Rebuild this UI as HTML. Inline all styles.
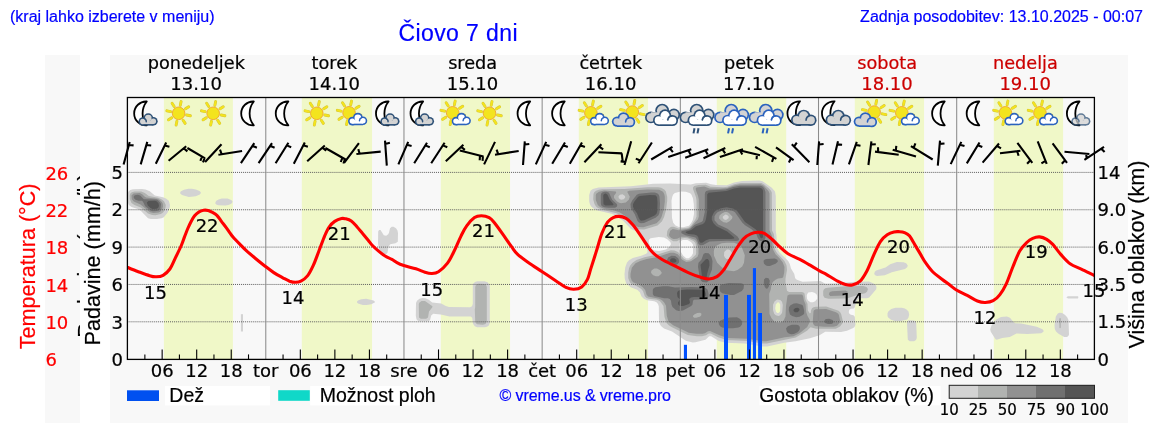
<!DOCTYPE html>
<html><head><meta charset="utf-8"><style>
html,body{margin:0;padding:0;background:#fff;width:1152px;height:443px;overflow:hidden}
svg{position:absolute;left:0;top:0;will-change:transform}
.dj{font-family:"DejaVu Sans",sans-serif;font-size:18px;stroke:currentColor;stroke-width:0.22px}
.ax{font-size:21.6px}
.ls{font-family:"Liberation Sans",Arial,sans-serif;stroke:currentColor;stroke-width:0.2px}
.lg{font-size:19.5px}
.cbl{font-size:15px}
.top{font-family:"Liberation Sans",Arial,sans-serif;fill:#0000ff;stroke:#0000ff;stroke-width:0.2px}
</style></head><body>
<svg width="1152" height="443" viewBox="0 0 1152 443">
<defs><clipPath id="cpP"><rect x="127.4" y="97" width="967" height="262"/></clipPath><clipPath id="cpT"><rect x="45" y="55" width="35" height="367"/></clipPath><clipPath id="cpL"><rect x="110" y="0" width="20" height="443"/></clipPath></defs>
<rect x="45" y="55" width="35" height="368" fill="#f8f8f8"/>
<rect x="110" y="55" width="1018" height="368" fill="#f8f8f8"/>
<text x="10" y="22.2" class="top" font-size="16">(kraj lahko izberete v meniju)</text>
<text x="398.5" y="40.6" class="top" font-size="23" letter-spacing="0.4">Čiovo 7 dni</text>
<text x="1143" y="21.5" class="top" font-size="16" text-anchor="end">Zadnja posodobitev: 13.10.2025 - 00:07</text>
<rect x="127.4" y="97" width="967" height="262" fill="#f8f8f8"/>
<rect x="163.90" y="97" width="69.00" height="262" fill="#f0f8c8"/>
<rect x="301.80" y="97" width="70.25" height="262" fill="#f0f8c8"/>
<rect x="440.80" y="97" width="69.25" height="262" fill="#f0f8c8"/>
<rect x="578.80" y="97" width="69.25" height="262" fill="#f0f8c8"/>
<rect x="716.80" y="97" width="69.40" height="262" fill="#f0f8c8"/>
<rect x="854.80" y="97" width="69.25" height="262" fill="#f0f8c8"/>
<rect x="993.80" y="97" width="69.30" height="262" fill="#f0f8c8"/>
<g clip-path="url(#cpP)"><path fill="#d3d3d3" fill-rule="evenodd" d="M908.2,320.2 907.0,323.2 907.8,339.8 909.8,341.2 914.0,341.2 916.0,340.0 916.8,338.0 916.2,322.8 915.0,321.0 913.8,320.5ZM990.2,329.2 990.8,331.8 995.5,339.2 996.8,339.8 1002.2,338.0 1009.8,337.0 1016.5,333.5 1027.2,334.0 1041.2,333.2 1043.5,331.8 1043.5,330.5 1042.5,329.2 1036.8,326.8 1021.2,323.5 1015.2,323.2 1013.2,321.8 1010.0,317.8 1006.8,316.5 1001.0,317.0 995.8,319.8 991.5,325.5ZM1059.5,312.8 1057.8,313.5 1055.8,316.5 1054.5,325.0 1054.8,329.0 1056.0,331.5 1058.5,333.8 1064.2,337.0 1067.0,337.0 1068.5,335.8 1069.0,334.5 1068.5,320.0 1067.0,317.0 1064.8,314.8 1062.0,313.0ZM887.5,313.2 887.5,316.0 888.2,317.5 891.0,319.8 895.0,321.0 900.8,321.0 907.2,319.5 908.5,317.5 909.2,314.5 908.5,311.5 906.8,309.8 904.8,308.5 901.8,307.8 895.5,307.8 891.2,309.0 888.5,311.2ZM357.0,301.5 357.0,302.5 358.0,303.5 362.8,305.0 366.8,305.0 371.2,304.2 374.8,302.5 374.8,301.5 373.5,300.5 366.2,298.8 361.2,299.2 358.0,300.5ZM489.2,284.2 487.5,282.2 484.5,281.2 477.5,281.2 475.5,281.8 473.5,283.2 472.8,285.2 472.8,303.8 472.0,306.2 470.0,307.2 449.0,307.0 445.8,306.0 441.2,303.5 432.2,302.5 428.8,299.8 425.5,298.2 422.5,298.0 419.5,298.8 417.0,300.8 416.0,303.0 415.8,315.8 416.5,319.2 417.2,320.2 419.2,321.2 428.0,321.2 430.0,320.2 431.2,315.5 433.2,313.8 440.8,314.5 449.5,316.5 470.8,316.5 472.2,317.8 473.0,323.8 474.8,326.2 477.2,327.2 485.0,327.2 487.0,326.8 488.8,325.5 489.8,323.0 489.8,286.0ZM907.8,265.5 906.2,263.2 903.5,262.2 896.8,262.0 890.2,264.2 885.5,267.5 876.2,270.5 874.8,271.8 874.2,274.0 875.2,275.2 877.0,276.0 884.8,275.2 891.8,272.2 905.0,269.0 907.2,267.2ZM393.5,226.8 391.8,226.8 390.0,228.2 389.0,232.8 388.2,234.2 386.2,235.8 383.8,235.2 380.5,230.0 379.2,230.0 378.2,231.2 378.0,243.0 378.8,248.8 379.5,250.5 384.2,254.2 386.0,254.2 387.5,252.8 388.5,246.8 390.2,244.2 395.5,243.2 397.8,241.8 398.0,233.2 397.5,230.5 396.0,228.2ZM232.5,201.2 231.2,200.0 227.5,198.5 221.8,198.5 218.5,199.5 216.0,201.0 215.2,203.2 216.2,204.5 218.2,205.2 225.5,205.5 228.5,205.0 231.2,203.8 232.2,202.8ZM128.5,191.5 127.8,193.2 127.5,198.2 128.0,203.0 128.8,205.0 131.5,207.0 137.2,208.8 140.5,210.5 148.0,218.2 150.8,219.0 157.0,219.0 161.5,218.2 163.8,217.2 167.5,212.8 169.8,207.2 170.0,205.0 168.8,200.8 166.0,198.5 163.0,197.2 154.8,195.5 149.8,191.2 145.5,189.5 142.0,189.0 133.0,189.2 130.2,190.0ZM180.2,192.2 180.2,193.5 182.0,195.0 188.8,197.0 195.8,196.2 199.8,194.5 200.8,193.2 200.8,192.2 199.5,191.0 195.8,189.5 191.8,188.8 188.5,188.8 184.0,189.8 181.0,191.2ZM590.5,190.8 589.2,195.0 589.2,201.5 590.0,204.5 591.2,206.5 594.2,209.0 597.5,210.5 611.5,213.8 617.2,216.2 623.5,221.0 630.5,228.5 633.5,230.2 638.8,232.0 640.2,234.0 641.8,238.8 647.2,249.8 647.5,252.2 646.2,253.8 641.2,255.8 632.8,258.0 629.0,260.2 627.0,262.5 625.2,267.5 624.5,274.2 624.8,278.8 626.2,283.5 630.8,287.2 637.2,289.8 639.8,292.2 641.5,296.5 643.8,298.8 647.0,300.2 654.2,301.2 656.5,302.2 658.0,304.0 658.8,306.2 659.0,320.2 659.8,324.0 661.0,326.0 664.0,328.5 672.0,331.5 685.8,340.8 692.8,342.5 695.5,342.2 705.5,339.8 709.2,336.2 711.2,336.2 718.8,341.0 726.0,342.8 745.0,343.5 762.2,346.5 767.2,346.5 784.2,342.8 795.5,341.2 810.0,338.2 819.5,335.2 825.2,331.8 841.0,332.0 847.0,330.8 853.2,328.0 854.5,327.0 855.5,324.8 854.8,316.8 853.5,315.2 850.8,314.8 849.2,313.5 848.8,312.2 849.2,309.8 851.0,308.8 853.8,308.5 854.5,307.8 856.5,302.0 858.2,299.2 861.2,298.2 867.0,298.2 869.2,297.5 876.2,289.2 876.5,287.0 875.8,285.2 873.2,283.2 869.0,281.5 855.0,281.8 838.5,283.2 826.2,283.8 824.8,283.5 820.5,281.0 802.5,281.8 796.8,279.8 795.2,278.2 794.2,273.8 791.0,268.5 789.8,264.0 788.2,261.0 779.8,252.8 777.0,248.2 776.5,235.8 775.8,231.0 775.8,196.0 775.0,191.5 771.8,187.8 762.5,181.2 759.2,180.5 742.0,181.0 734.2,182.5 726.8,185.2 716.0,185.0 711.0,184.2 706.2,182.8 696.0,183.2 690.8,184.5 670.2,183.5 653.2,183.8 630.8,186.2 598.5,187.5 592.8,189.0ZM777.8,302.2 779.0,302.5 780.2,304.5 780.2,310.2 779.8,311.8 778.5,313.0 777.2,313.0 776.0,311.8 775.2,308.5 775.8,304.2ZM808.2,292.5 812.0,292.0 814.5,292.8 816.5,294.2 817.2,296.0 817.2,298.8 815.2,301.2 813.0,302.2 810.5,302.2 808.0,300.5 807.0,298.5 806.8,295.0ZM682.8,240.0 687.5,240.0 691.0,242.0 693.0,244.5 693.0,253.2 691.5,256.0 688.8,258.2 686.2,258.2 683.0,255.5 679.2,249.0 679.2,244.0 679.8,242.5 681.2,240.8ZM648.8,240.0 650.5,238.2 658.8,237.0 664.0,237.5 667.2,239.2 670.0,241.8 670.8,243.0 670.8,244.5 669.5,246.8 666.0,249.5 659.0,251.0 654.5,250.5 651.8,249.2 650.5,247.8 648.8,242.2ZM680.8,191.5 685.8,191.8 690.2,193.2 691.5,194.8 693.0,198.5 693.8,204.2 694.0,214.0 692.8,220.0 691.2,223.0 689.0,225.8 683.2,227.2 679.0,227.0 675.5,225.5 673.2,222.8 672.0,218.0 671.5,200.8 672.2,197.0 673.2,194.5 674.8,193.0Z"/>
<path fill="#b1b3b1" fill-rule="evenodd" d="M1059.8,317.8 1059.2,319.8 1059.5,328.0 1060.2,328.2 1060.8,327.5 1060.8,318.5ZM421.5,301.0 419.2,302.8 418.8,304.2 419.0,317.5 420.8,318.8 426.2,318.8 428.0,317.5 429.0,311.5 432.2,307.5 432.5,306.2 425.0,301.0ZM868.0,289.0 866.5,287.0 863.2,286.0 846.0,286.2 827.8,287.8 825.2,288.2 823.8,289.5 823.2,291.0 823.2,295.5 824.5,297.8 828.5,298.8 847.0,298.5 857.2,295.0 865.0,293.2 867.0,291.8ZM478.2,283.8 476.0,284.8 475.2,287.0 475.2,307.0 474.8,309.5 475.2,321.0 475.8,323.0 477.0,324.2 482.8,324.8 485.5,324.0 486.8,321.5 486.8,287.0 486.0,285.0 484.5,284.0ZM130.5,193.2 129.8,195.0 129.8,199.0 131.5,203.0 134.5,205.0 140.8,207.5 148.0,213.5 152.2,215.0 155.5,215.2 160.8,214.0 162.5,213.0 164.0,211.2 165.5,207.8 165.8,205.0 164.0,201.2 161.8,199.5 158.2,197.8 148.8,196.0 144.8,193.0 141.2,191.5 134.8,191.5 131.8,192.2ZM667.2,196.8 665.8,191.2 664.2,189.5 661.2,187.8 658.2,187.2 647.2,187.2 624.5,189.0 602.2,189.2 598.8,189.8 596.0,190.8 594.2,192.2 593.5,194.0 593.2,199.2 594.5,204.0 596.0,206.5 597.5,207.8 602.2,209.8 616.5,213.2 621.0,215.5 624.8,218.2 631.0,225.2 634.5,227.8 638.5,229.2 644.2,229.5 657.5,225.5 661.8,221.5 664.0,217.2 666.0,210.2 667.2,201.0ZM618.5,196.2 620.0,194.8 622.5,194.2 625.0,196.0 625.2,197.5 623.8,199.2 621.0,199.8 618.8,198.2ZM629.0,268.2 628.2,272.8 628.2,278.0 630.0,282.5 632.0,284.2 636.5,286.0 641.0,288.8 643.0,291.0 644.8,296.2 646.5,298.0 648.8,298.8 657.0,299.8 660.0,301.2 663.5,306.0 664.5,317.0 666.5,323.0 668.8,325.2 671.5,327.0 687.8,335.0 697.0,336.2 702.0,336.2 706.0,335.2 708.8,333.5 710.8,333.5 718.2,337.2 726.2,340.0 747.8,341.0 762.2,343.5 766.8,343.5 795.8,337.5 807.0,330.8 810.5,327.2 816.2,328.8 835.8,328.8 840.0,326.5 842.5,323.2 842.8,321.0 841.2,314.2 840.2,312.2 838.5,310.8 826.2,306.5 815.8,306.8 813.5,307.2 812.0,308.2 811.0,310.5 810.8,312.8 809.8,313.5 807.8,310.2 807.5,303.8 805.5,299.8 804.5,293.5 803.5,292.5 801.8,292.0 789.0,292.0 787.0,290.8 785.5,282.5 785.5,278.8 787.0,269.8 786.5,265.2 784.5,261.0 777.2,253.2 775.0,249.5 774.5,247.2 774.2,236.5 773.8,234.0 772.0,230.5 771.8,192.5 771.0,190.8 768.8,188.2 764.2,184.5 761.5,183.0 741.0,183.0 734.2,184.2 727.5,186.8 723.5,187.2 710.5,186.8 705.8,184.8 698.5,185.0 694.2,186.0 693.0,187.5 693.0,189.0 696.0,197.2 696.5,200.2 696.5,216.5 695.5,219.2 691.2,225.5 688.2,227.8 679.2,228.8 673.5,226.8 671.5,226.8 670.0,227.5 668.2,229.2 667.2,231.2 666.8,235.8 669.0,238.5 673.2,241.2 677.0,241.2 681.5,238.5 684.8,238.0 688.2,238.5 693.5,241.0 695.2,242.8 696.0,245.5 696.2,252.8 695.8,254.8 691.2,259.0 689.0,260.0 686.8,260.2 683.8,258.8 678.0,252.0 674.5,250.5 671.0,250.2 657.5,254.5 644.5,257.2 636.5,260.0 632.5,262.8 630.2,265.5ZM777.0,299.5 780.2,300.0 782.0,301.8 782.8,305.0 782.2,312.2 781.5,313.8 779.8,315.5 778.5,316.0 775.8,315.2 774.2,313.8 773.0,310.0 773.0,304.8 774.5,301.5ZM726.8,249.5 728.8,249.5 730.2,250.2 732.2,253.2 732.2,256.5 730.8,258.5 729.2,259.2 726.5,259.0 725.0,257.8 724.0,255.8 724.2,252.0ZM725.5,214.5 727.2,215.0 728.8,216.8 728.5,218.2 726.0,220.0 724.2,219.5 722.8,218.0 722.8,216.5Z"/>
<path fill="#919191" fill-rule="evenodd" d="M814.0,310.2 813.5,311.5 812.8,321.5 813.2,324.0 815.0,326.0 824.5,326.8 833.5,326.8 837.0,325.8 840.0,322.5 840.2,321.0 838.8,314.8 838.0,313.5 836.0,312.2 826.2,309.0 815.8,309.2ZM847.8,291.8 845.5,290.5 832.2,291.2 829.8,292.0 828.8,294.2 830.2,296.0 844.5,295.5 847.2,294.2ZM131.5,195.5 131.8,199.2 133.8,201.5 140.5,204.5 150.2,212.2 153.5,213.0 158.5,212.5 160.2,211.8 162.2,209.2 163.0,206.5 162.8,203.8 162.0,202.2 159.8,200.0 157.5,198.8 146.2,197.5 144.8,196.8 142.2,194.2 139.8,193.0 133.5,193.5ZM664.8,196.5 664.2,194.0 663.0,191.8 659.2,189.8 647.2,189.5 629.2,190.8 627.2,191.8 629.8,196.8 628.8,199.8 625.8,202.5 621.2,203.2 619.2,202.8 616.8,201.2 614.0,198.0 614.0,195.8 616.2,192.8 615.8,191.5 604.0,190.5 599.0,191.8 596.2,193.8 595.8,195.2 595.8,200.0 597.8,205.0 600.0,207.0 603.2,208.5 612.5,210.0 619.5,212.2 626.5,216.8 630.8,221.8 635.5,225.8 638.2,227.0 643.2,227.2 656.5,223.2 660.0,219.8 661.5,217.0 663.8,209.2 664.8,201.8ZM696.5,187.5 695.8,188.2 695.8,189.8 698.0,195.8 698.8,199.5 698.8,216.5 698.0,219.2 690.0,228.0 688.2,228.8 678.8,230.2 672.8,229.0 670.2,230.8 669.0,234.8 669.5,236.2 671.2,238.0 673.5,239.0 677.2,238.8 681.2,236.8 686.5,236.8 695.0,239.8 696.5,241.8 698.5,248.0 698.5,254.0 697.5,256.8 691.0,261.2 686.2,262.0 682.2,259.8 677.8,254.2 673.8,252.8 670.2,252.8 656.5,257.2 646.8,259.0 640.2,261.0 635.5,263.2 631.8,267.8 630.5,274.0 630.5,277.0 631.8,280.8 633.2,282.2 639.2,284.8 642.5,287.0 645.2,290.0 646.5,294.5 648.0,296.5 659.2,298.8 662.0,300.2 664.2,302.5 666.0,305.8 666.8,315.8 668.5,321.5 673.2,325.2 688.8,332.8 696.5,333.8 702.5,333.8 704.8,333.2 708.0,331.2 710.0,331.0 719.5,335.2 727.8,338.0 747.5,338.8 762.8,341.2 766.2,341.2 784.8,337.2 793.5,336.2 799.5,333.2 807.2,327.0 809.8,321.8 809.8,320.0 807.5,316.0 806.2,312.0 805.5,304.2 803.8,300.2 803.2,296.5 802.5,295.0 801.5,294.5 789.5,294.5 787.5,295.5 786.0,306.0 785.5,316.5 783.8,320.2 781.8,322.0 780.0,322.5 774.8,322.0 771.5,318.2 769.5,314.0 769.2,293.8 770.8,289.2 771.5,284.8 772.8,282.0 775.5,279.8 778.0,278.5 782.2,278.0 783.2,277.0 784.2,272.8 784.5,267.0 782.8,262.5 780.0,258.8 775.5,254.2 772.8,249.2 772.0,236.0 769.5,230.2 769.5,193.5 768.5,191.0 763.8,185.8 760.5,184.2 739.5,184.5 734.2,185.5 727.2,188.0 719.0,188.8 709.5,188.5 704.2,186.5ZM701.5,313.8 701.2,315.5 699.8,316.8 696.2,317.8 694.2,317.8 693.0,316.8 693.0,315.8 694.2,314.5 697.2,313.0 700.2,312.8ZM651.5,270.5 654.2,268.5 657.0,268.5 660.2,270.2 661.8,272.8 661.2,274.0 658.5,276.2 655.8,276.2 653.2,275.2 651.5,273.5 651.0,272.2ZM716.8,245.5 721.5,243.2 726.8,242.8 734.0,242.8 739.5,244.8 741.8,247.2 744.8,255.2 744.0,262.8 742.2,266.5 737.5,270.0 733.8,271.2 726.2,270.2 723.0,268.5 717.2,262.8 714.0,255.8 713.8,251.8 714.2,249.2 715.2,247.0ZM724.8,212.0 727.0,212.0 729.0,213.0 732.5,216.8 732.0,218.8 729.5,221.2 726.8,222.8 723.5,222.2 721.0,220.5 719.0,218.2 719.5,215.5 721.8,213.5Z"/>
<path fill="#707070" fill-rule="evenodd" d="M798.5,325.2 796.8,324.8 791.8,324.8 787.8,326.2 786.0,328.5 787.0,332.0 788.8,333.5 791.2,334.2 793.8,334.0 797.5,332.2 799.0,330.8 799.8,329.0 799.8,326.8ZM824.2,321.0 825.0,323.0 828.0,324.0 831.2,324.0 832.5,323.5 833.5,322.2 833.5,321.2 832.5,320.0 829.2,318.8 826.2,319.0 825.2,319.5ZM742.2,321.5 740.2,319.0 737.0,317.2 729.5,317.5 725.8,318.2 720.0,320.8 718.8,322.2 718.8,324.0 720.0,326.2 722.2,327.5 727.2,328.2 733.0,328.2 738.5,327.5 740.2,326.8 742.0,324.5ZM793.8,303.5 790.5,305.2 789.0,307.2 788.8,310.2 790.0,314.5 792.2,316.0 796.2,317.2 799.5,316.8 803.2,314.8 804.2,313.5 804.2,310.8 803.0,305.8 801.8,304.8 796.8,303.2ZM652.8,290.2 652.8,294.0 654.0,296.0 664.2,298.2 667.8,298.2 669.8,299.0 671.0,300.8 671.5,304.5 672.5,307.0 676.2,310.2 678.8,311.0 683.0,310.5 691.2,306.0 692.5,304.5 693.0,300.8 694.0,299.8 706.0,299.2 707.2,298.8 708.5,296.8 708.5,293.5 707.5,289.5 705.5,288.0 703.2,287.5 691.5,287.0 675.0,287.5 668.2,286.2 663.0,286.2 655.2,287.2 653.2,288.8ZM744.0,285.2 743.2,284.0 741.2,283.2 729.0,283.0 721.2,284.5 719.8,286.0 719.5,288.5 720.2,291.5 722.2,293.2 730.5,295.0 734.0,295.0 741.8,291.0 743.5,288.8ZM765.8,277.8 764.0,279.5 763.8,283.5 764.8,287.0 766.0,288.5 767.2,288.8 768.8,286.8 769.8,280.8 768.5,278.2ZM763.5,260.8 764.0,263.8 766.0,265.5 767.8,266.0 769.8,266.0 775.5,263.8 777.8,261.8 777.5,259.8 774.8,258.5 766.5,259.0 764.8,259.5ZM668.2,257.5 667.2,259.5 667.2,261.2 668.0,263.0 670.5,264.8 672.2,265.2 675.8,265.0 677.5,264.2 679.0,262.5 679.2,260.8 678.2,258.2 675.2,256.0 671.5,255.8ZM705.2,253.0 703.5,254.0 701.5,259.5 698.5,262.8 698.0,266.8 699.5,276.5 700.8,280.5 702.5,282.0 706.8,282.5 708.5,281.0 709.2,276.5 712.0,269.5 712.5,261.2 711.5,257.2 710.0,254.8 708.5,253.2ZM133.8,196.2 133.8,198.0 135.5,199.8 138.5,200.8 142.0,200.8 143.0,201.8 145.2,206.2 151.0,210.8 152.8,211.2 157.0,211.0 159.5,210.0 160.5,208.5 161.0,204.0 160.2,202.5 158.0,200.2 156.5,199.5 143.8,199.2 140.2,195.5 137.8,194.8 134.8,195.2ZM657.5,193.5 654.8,192.5 651.2,192.5 639.0,193.8 636.8,194.8 632.2,200.5 630.5,204.0 630.8,208.0 634.8,214.2 637.5,221.0 639.0,222.5 640.8,223.2 644.0,223.0 655.5,217.8 658.5,215.2 659.5,212.8 660.0,203.5 659.5,196.8 658.8,194.8ZM601.2,193.5 600.8,195.2 600.8,203.2 601.2,205.2 602.5,206.5 604.2,207.2 608.8,207.8 615.0,207.8 617.0,206.5 617.2,205.0 616.8,204.0 612.2,199.8 609.0,192.8 606.8,191.8 604.5,191.8 602.2,192.5ZM764.2,188.2 762.5,186.5 760.5,185.8 740.0,185.8 733.2,187.0 725.5,189.5 709.0,190.2 706.2,191.0 705.2,192.2 704.8,194.2 704.8,212.0 702.8,220.8 701.8,221.8 694.8,224.8 689.8,229.2 682.0,231.0 681.2,231.8 681.5,233.2 685.5,235.2 695.5,237.5 697.0,239.5 698.5,243.8 700.2,245.2 703.2,245.0 709.5,241.5 726.5,240.8 736.8,241.0 738.5,240.5 739.2,239.0 737.5,236.5 727.5,228.8 718.2,224.5 714.5,220.2 714.5,216.2 715.8,214.0 717.8,212.0 723.0,210.0 726.5,209.5 733.0,211.0 735.0,212.2 742.2,222.5 745.0,225.2 751.5,229.2 756.0,233.2 757.8,238.0 759.8,240.8 761.2,241.2 763.8,240.8 764.8,239.8 765.5,237.5 765.5,192.0Z"/>
<path fill="#555555" fill-rule="evenodd" d="M799.0,308.5 797.8,307.8 795.5,308.0 793.8,309.2 793.5,310.8 795.0,312.2 797.5,312.2 799.2,310.8 799.5,309.5ZM677.0,293.0 677.5,297.0 680.0,299.5 678.0,302.5 678.2,304.5 680.0,306.0 683.2,306.0 689.0,304.0 690.0,302.5 689.2,299.0 691.0,297.5 693.8,297.0 704.2,297.0 705.8,295.8 705.8,293.2 705.0,291.2 703.8,290.2 701.0,289.8 686.8,289.5 679.8,290.2 678.0,291.0ZM707.8,259.0 705.8,259.2 700.5,264.8 702.0,276.5 702.8,278.8 704.0,279.8 705.5,279.8 706.5,278.5 707.2,273.5 709.5,265.2 709.2,261.0ZM670.0,259.8 670.2,261.5 672.5,262.8 675.2,262.5 676.5,261.2 676.2,259.8 674.2,258.2 671.8,258.2ZM146.8,202.5 147.8,205.5 150.5,208.0 152.5,209.0 156.8,208.8 158.2,207.8 159.0,206.0 158.5,203.2 156.5,201.2 155.0,200.8 148.5,201.0ZM655.5,195.2 649.8,195.0 640.0,196.0 638.2,196.8 634.2,201.8 633.0,204.2 633.0,206.8 634.2,209.5 637.0,213.2 638.8,218.0 640.2,220.2 641.2,220.8 644.2,220.2 654.5,215.5 656.5,213.8 657.2,211.5 657.5,202.2 657.0,197.0ZM604.0,194.0 603.2,195.5 603.5,204.2 605.5,205.5 613.0,205.2 613.5,204.2 609.8,199.8 607.5,194.8 605.8,193.5ZM762.2,188.8 759.5,187.5 740.2,187.5 734.0,188.5 726.5,191.0 708.5,192.8 707.2,194.5 707.2,211.2 706.0,219.0 705.0,222.0 703.0,224.0 696.0,226.2 691.2,230.0 686.5,231.5 685.5,232.5 688.2,234.0 694.2,234.5 697.0,235.5 698.2,237.2 699.2,241.2 700.5,242.8 702.2,242.8 706.0,240.2 709.5,239.0 731.2,239.0 734.2,238.5 734.2,237.5 727.2,231.5 716.5,226.2 713.5,223.2 711.8,219.8 711.8,216.8 714.0,212.2 716.0,210.2 721.0,208.2 726.5,207.2 733.0,208.5 736.8,210.5 745.0,222.0 755.2,229.0 758.0,231.8 760.5,237.8 761.2,238.2 762.5,238.0 763.0,236.8 763.0,190.8Z"/></g>
<rect x="240.9" y="314.2" width="2.1" height="17.3" fill="#d3d3d3"/>
<path d="M1066.3,297.3 L1068,296.3 L1078,296.3 L1078.4,297.3 L1078,298.4 L1068,298.4Z" fill="#d3d3d3"/>
<line x1="127.4" y1="321.80" x2="1094.4" y2="321.80" stroke="#5a5a5a" stroke-width="1" stroke-dasharray="1 1.03"/>
<line x1="127.4" y1="284.45" x2="1094.4" y2="284.45" stroke="#5a5a5a" stroke-width="1" stroke-dasharray="1 1.03"/>
<line x1="127.4" y1="247.10" x2="1094.4" y2="247.10" stroke="#5a5a5a" stroke-width="1" stroke-dasharray="1 1.03"/>
<line x1="127.4" y1="209.75" x2="1094.4" y2="209.75" stroke="#5a5a5a" stroke-width="1" stroke-dasharray="1 1.03"/>
<line x1="127.4" y1="172.40" x2="1094.4" y2="172.40" stroke="#5a5a5a" stroke-width="1" stroke-dasharray="1 1.03"/>
<line x1="265.78" y1="97" x2="265.78" y2="359" stroke="#8c8c8c" stroke-width="1.05"/>
<line x1="403.96" y1="97" x2="403.96" y2="359" stroke="#8c8c8c" stroke-width="1.05"/>
<line x1="542.15" y1="97" x2="542.15" y2="359" stroke="#8c8c8c" stroke-width="1.05"/>
<line x1="680.33" y1="97" x2="680.33" y2="359" stroke="#8c8c8c" stroke-width="1.05"/>
<line x1="818.51" y1="97" x2="818.51" y2="359" stroke="#8c8c8c" stroke-width="1.05"/>
<line x1="956.69" y1="97" x2="956.69" y2="359" stroke="#8c8c8c" stroke-width="1.05"/>
<path d="M127.0,267.1 C128.9,267.9 134.5,270.3 138.3,271.7 C142.1,273.1 146.6,274.8 149.6,275.7 C152.6,276.6 154.1,276.9 156.3,276.8 C158.6,276.7 160.8,276.6 163.1,275.3 C165.4,274.0 167.8,271.9 169.9,269.0 C172.0,266.1 173.6,261.7 175.5,257.7 C177.4,253.7 180.0,248.5 181.5,245.0 C183.0,241.5 183.5,239.3 184.6,236.6 C185.7,233.8 186.7,231.0 187.8,228.5 C188.9,226.0 189.9,223.8 191.0,221.7 C192.1,219.6 193.2,217.5 194.6,215.8 C195.9,214.2 197.6,212.7 199.1,211.8 C200.6,210.9 202.1,210.4 203.6,210.2 C205.1,210.0 206.7,210.1 208.1,210.4 C209.5,210.7 210.6,211.4 212.1,212.2 C213.6,213.0 215.3,213.7 216.9,215.3 C218.5,216.9 220.0,219.5 221.6,221.6 C223.2,223.7 225.1,226.1 226.4,227.9 C227.7,229.7 228.4,230.8 229.5,232.3 C230.6,233.8 231.3,235.0 233.0,237.0 C234.7,239.0 237.5,241.8 239.8,244.1 C242.1,246.4 243.9,248.5 246.6,250.9 C249.3,253.3 252.8,256.2 255.8,258.7 C258.8,261.2 261.8,263.6 264.8,265.9 C267.8,268.2 270.8,270.6 273.8,272.6 C276.8,274.6 280.3,276.4 282.9,277.8 C285.5,279.2 287.5,280.4 289.6,281.2 C291.7,281.9 293.4,282.3 295.3,282.3 C297.2,282.3 298.8,282.3 300.9,281.2 C303.0,280.1 305.6,278.2 307.7,275.6 C309.8,273.0 311.4,269.5 313.3,265.4 C315.2,261.3 317.1,255.7 319.0,250.8 C320.9,245.9 322.9,240.1 324.6,236.1 C326.3,232.1 327.4,229.5 329.1,227.1 C330.8,224.7 332.6,222.8 334.7,221.4 C336.8,220.0 339.7,218.9 341.5,218.5 C343.3,218.1 344.0,218.4 345.6,218.8 C347.2,219.2 349.4,219.7 351.3,221.0 C353.2,222.3 355.0,224.6 356.9,226.7 C358.8,228.8 360.7,231.2 362.6,233.4 C364.5,235.7 366.5,238.1 368.2,240.2 C369.9,242.3 371.0,244.0 372.7,245.8 C374.4,247.6 376.2,249.2 378.3,250.9 C380.4,252.6 382.8,254.6 385.1,256.0 C387.4,257.4 389.4,258.0 391.9,259.4 C394.4,260.8 396.1,262.7 400.1,264.3 C404.1,265.9 411.8,267.5 415.9,268.8 C420.0,270.1 422.3,271.4 424.9,272.2 C427.5,273.0 429.4,273.6 431.7,273.5 C434.0,273.4 435.9,273.4 438.5,271.7 C441.1,270.0 444.9,266.7 447.5,263.2 C450.1,259.7 452.1,255.3 454.3,250.8 C456.6,246.3 458.9,240.2 461.0,236.1 C463.1,231.9 464.4,229.0 466.7,225.9 C468.9,222.8 472.1,219.3 474.5,217.6 C476.9,215.9 478.9,215.8 481.3,215.8 C483.8,215.8 486.9,216.4 489.2,217.6 C491.4,218.8 492.4,220.2 494.8,223.2 C497.2,226.2 501.0,231.6 503.8,235.6 C506.6,239.6 509.4,243.8 511.7,246.9 C514.0,250.0 514.6,251.5 517.4,254.1 C520.2,256.7 524.5,259.8 528.6,262.7 C532.7,265.6 537.7,268.7 542.2,271.7 C546.7,274.7 551.8,278.1 555.7,280.7 C559.7,283.3 562.9,286.0 565.9,287.4 C568.9,288.8 571.2,289.4 573.8,289.3 C576.4,289.2 579.5,288.5 581.7,286.9 C584.0,285.3 585.8,282.5 587.3,279.6 C588.8,276.7 589.1,274.1 590.6,269.4 C592.1,264.7 594.4,257.4 596.3,251.4 C598.2,245.4 600.0,238.2 601.9,233.3 C603.8,228.4 605.7,224.7 607.6,222.1 C609.5,219.5 611.3,218.5 613.2,217.6 C615.1,216.7 616.7,216.3 618.8,216.4 C620.9,216.5 623.3,216.9 625.6,218.2 C627.9,219.5 630.1,221.8 632.4,224.3 C634.6,226.8 636.9,230.1 639.1,233.3 C641.4,236.5 643.6,240.3 645.9,243.5 C648.2,246.7 650.1,249.9 652.7,252.5 C655.3,255.1 658.0,257.0 661.7,259.3 C665.5,261.6 670.7,263.9 675.2,266.1 C679.7,268.4 684.7,271.0 688.8,272.8 C692.9,274.6 696.6,276.1 700.0,277.1 C703.4,278.1 706.2,279.1 709.0,279.0 C711.8,278.9 714.4,278.2 716.9,276.7 C719.4,275.2 721.4,272.9 723.7,269.9 C726.0,266.9 728.2,262.4 730.5,258.7 C732.8,254.9 735.0,250.8 737.2,247.4 C739.5,244.0 741.7,240.6 744.0,238.3 C746.3,236.0 748.5,234.8 750.8,233.8 C753.0,232.8 755.2,232.4 757.5,232.3 C759.8,232.2 761.8,232.2 764.3,233.4 C766.8,234.6 769.8,237.4 772.2,239.5 C774.7,241.6 776.4,243.8 779.0,246.2 C781.6,248.6 784.6,251.5 788.0,253.7 C791.4,255.8 795.5,257.2 799.3,259.1 C803.0,261.1 807.0,263.4 810.5,265.4 C814.0,267.4 817.4,269.7 820.0,271.2 C822.6,272.7 823.4,272.6 826.3,274.3 C829.2,276.0 834.4,279.4 837.6,281.1 C840.8,282.8 843.1,283.8 845.5,284.4 C847.9,285.0 849.8,285.4 852.2,284.9 C854.6,284.3 857.7,283.4 860.1,281.1 C862.5,278.8 864.6,275.2 866.9,270.9 C869.2,266.6 871.5,260.0 873.7,255.1 C876.0,250.2 878.1,245.0 880.4,241.6 C882.6,238.2 884.9,236.4 887.2,234.8 C889.5,233.2 891.9,232.4 894.0,231.9 C896.1,231.4 897.9,231.6 899.6,231.7 C901.4,231.8 902.9,231.9 904.5,232.6 C906.1,233.3 907.7,233.8 909.4,235.8 C911.1,237.9 913.1,241.9 914.9,244.9 C916.7,247.9 918.5,250.9 920.3,253.9 C922.1,256.9 923.6,259.9 925.7,262.9 C927.8,265.9 930.2,269.3 932.9,272.0 C935.6,274.7 939.3,277.1 942.0,279.2 C944.7,281.3 946.8,282.8 949.2,284.6 C951.6,286.4 953.4,288.2 956.4,290.0 C959.4,291.8 963.7,293.6 967.2,295.4 C970.7,297.2 974.4,299.8 977.4,301.0 C980.4,302.2 982.7,302.6 985.3,302.5 C987.9,302.4 990.8,302.0 993.2,300.7 C995.6,299.4 997.7,297.5 999.9,294.6 C1002.1,291.8 1004.2,288.2 1006.4,283.6 C1008.5,279.0 1010.6,272.4 1012.8,267.0 C1015.0,261.6 1017.4,255.1 1019.7,251.0 C1022.0,246.9 1024.5,244.6 1026.7,242.5 C1028.9,240.4 1030.6,239.2 1032.7,238.3 C1034.8,237.4 1037.3,236.7 1039.6,236.9 C1041.9,237.1 1044.5,238.1 1046.7,239.3 C1048.9,240.6 1050.4,241.9 1052.8,244.4 C1055.2,246.9 1058.1,251.4 1061.0,254.6 C1063.9,257.8 1066.7,261.3 1070.1,263.7 C1073.5,266.1 1077.2,267.2 1081.3,269.2 C1085.3,271.2 1092.2,274.4 1094.4,275.5" fill="none" stroke="#ff0000" stroke-width="3.1" stroke-linejoin="round" clip-path="url(#cpP)"/>
<rect x="683.9" y="344.8" width="3.1" height="14.35" fill="#0050ff"/>
<rect x="724.0" y="294.9" width="4.0" height="64.25" fill="#0050ff"/>
<rect x="747.0" y="294.9" width="4.0" height="64.25" fill="#0050ff"/>
<rect x="752.9" y="268.1" width="3.1" height="91.05" fill="#0050ff"/>
<rect x="758.1" y="313.0" width="3.9" height="46.15" fill="#0050ff"/>
<text x="155.5" y="299.3" class="dj" text-anchor="middle">15</text>
<text x="207.1" y="231.8" class="dj" text-anchor="middle">22</text>
<text x="293" y="303.7" class="dj" text-anchor="middle">14</text>
<text x="339.3" y="239.5" class="dj" text-anchor="middle">21</text>
<text x="431.7" y="295.9" class="dj" text-anchor="middle">15</text>
<text x="483.5" y="236.8" class="dj" text-anchor="middle">21</text>
<text x="576.3" y="310.7" class="dj" text-anchor="middle">13</text>
<text x="615.5" y="237.9" class="dj" text-anchor="middle">21</text>
<text x="709" y="299.3" class="dj" text-anchor="middle">14</text>
<text x="759.8" y="253.1" class="dj" text-anchor="middle">20</text>
<text x="852.2" y="305.9" class="dj" text-anchor="middle">14</text>
<text x="898.5" y="252.9" class="dj" text-anchor="middle">20</text>
<text x="985" y="323.7" class="dj" text-anchor="middle">12</text>
<text x="1036.3" y="258.4" class="dj" text-anchor="middle">19</text>
<text x="1094" y="296.7" class="dj" text-anchor="middle">15</text>
<line x1="144.87" y1="354.40" x2="144.87" y2="359.4" stroke="#000" stroke-width="1.1"/>
<line x1="162.15" y1="349.40" x2="162.15" y2="359.4" stroke="#000" stroke-width="1.1"/>
<line x1="179.42" y1="354.40" x2="179.42" y2="359.4" stroke="#000" stroke-width="1.1"/>
<line x1="196.69" y1="349.40" x2="196.69" y2="359.4" stroke="#000" stroke-width="1.1"/>
<line x1="213.96" y1="354.40" x2="213.96" y2="359.4" stroke="#000" stroke-width="1.1"/>
<line x1="231.24" y1="349.40" x2="231.24" y2="359.4" stroke="#000" stroke-width="1.1"/>
<line x1="248.51" y1="354.40" x2="248.51" y2="359.4" stroke="#000" stroke-width="1.1"/>
<line x1="283.06" y1="354.40" x2="283.06" y2="359.4" stroke="#000" stroke-width="1.1"/>
<line x1="300.33" y1="349.40" x2="300.33" y2="359.4" stroke="#000" stroke-width="1.1"/>
<line x1="317.60" y1="354.40" x2="317.60" y2="359.4" stroke="#000" stroke-width="1.1"/>
<line x1="334.87" y1="349.40" x2="334.87" y2="359.4" stroke="#000" stroke-width="1.1"/>
<line x1="352.15" y1="354.40" x2="352.15" y2="359.4" stroke="#000" stroke-width="1.1"/>
<line x1="369.42" y1="349.40" x2="369.42" y2="359.4" stroke="#000" stroke-width="1.1"/>
<line x1="386.69" y1="354.40" x2="386.69" y2="359.4" stroke="#000" stroke-width="1.1"/>
<line x1="421.24" y1="354.40" x2="421.24" y2="359.4" stroke="#000" stroke-width="1.1"/>
<line x1="438.51" y1="349.40" x2="438.51" y2="359.4" stroke="#000" stroke-width="1.1"/>
<line x1="455.78" y1="354.40" x2="455.78" y2="359.4" stroke="#000" stroke-width="1.1"/>
<line x1="473.06" y1="349.40" x2="473.06" y2="359.4" stroke="#000" stroke-width="1.1"/>
<line x1="490.33" y1="354.40" x2="490.33" y2="359.4" stroke="#000" stroke-width="1.1"/>
<line x1="507.60" y1="349.40" x2="507.60" y2="359.4" stroke="#000" stroke-width="1.1"/>
<line x1="524.87" y1="354.40" x2="524.87" y2="359.4" stroke="#000" stroke-width="1.1"/>
<line x1="559.42" y1="354.40" x2="559.42" y2="359.4" stroke="#000" stroke-width="1.1"/>
<line x1="576.69" y1="349.40" x2="576.69" y2="359.4" stroke="#000" stroke-width="1.1"/>
<line x1="593.97" y1="354.40" x2="593.97" y2="359.4" stroke="#000" stroke-width="1.1"/>
<line x1="611.24" y1="349.40" x2="611.24" y2="359.4" stroke="#000" stroke-width="1.1"/>
<line x1="628.51" y1="354.40" x2="628.51" y2="359.4" stroke="#000" stroke-width="1.1"/>
<line x1="645.78" y1="349.40" x2="645.78" y2="359.4" stroke="#000" stroke-width="1.1"/>
<line x1="663.06" y1="354.40" x2="663.06" y2="359.4" stroke="#000" stroke-width="1.1"/>
<line x1="697.60" y1="354.40" x2="697.60" y2="359.4" stroke="#000" stroke-width="1.1"/>
<line x1="714.88" y1="349.40" x2="714.88" y2="359.4" stroke="#000" stroke-width="1.1"/>
<line x1="732.15" y1="354.40" x2="732.15" y2="359.4" stroke="#000" stroke-width="1.1"/>
<line x1="749.42" y1="349.40" x2="749.42" y2="359.4" stroke="#000" stroke-width="1.1"/>
<line x1="766.69" y1="354.40" x2="766.69" y2="359.4" stroke="#000" stroke-width="1.1"/>
<line x1="783.97" y1="349.40" x2="783.97" y2="359.4" stroke="#000" stroke-width="1.1"/>
<line x1="801.24" y1="354.40" x2="801.24" y2="359.4" stroke="#000" stroke-width="1.1"/>
<line x1="835.78" y1="354.40" x2="835.78" y2="359.4" stroke="#000" stroke-width="1.1"/>
<line x1="853.06" y1="349.40" x2="853.06" y2="359.4" stroke="#000" stroke-width="1.1"/>
<line x1="870.33" y1="354.40" x2="870.33" y2="359.4" stroke="#000" stroke-width="1.1"/>
<line x1="887.60" y1="349.40" x2="887.60" y2="359.4" stroke="#000" stroke-width="1.1"/>
<line x1="904.88" y1="354.40" x2="904.88" y2="359.4" stroke="#000" stroke-width="1.1"/>
<line x1="922.15" y1="349.40" x2="922.15" y2="359.4" stroke="#000" stroke-width="1.1"/>
<line x1="939.42" y1="354.40" x2="939.42" y2="359.4" stroke="#000" stroke-width="1.1"/>
<line x1="973.97" y1="354.40" x2="973.97" y2="359.4" stroke="#000" stroke-width="1.1"/>
<line x1="991.24" y1="349.40" x2="991.24" y2="359.4" stroke="#000" stroke-width="1.1"/>
<line x1="1008.51" y1="354.40" x2="1008.51" y2="359.4" stroke="#000" stroke-width="1.1"/>
<line x1="1025.79" y1="349.40" x2="1025.79" y2="359.4" stroke="#000" stroke-width="1.1"/>
<line x1="1043.06" y1="354.40" x2="1043.06" y2="359.4" stroke="#000" stroke-width="1.1"/>
<line x1="1060.33" y1="349.40" x2="1060.33" y2="359.4" stroke="#000" stroke-width="1.1"/>
<line x1="1077.60" y1="354.40" x2="1077.60" y2="359.4" stroke="#000" stroke-width="1.1"/>
<path d="M146.77,101.50 A11.92,11.92 0 1 0 146.77,125.30 A18.96,18.96 0 0 1 146.77,101.50Z" fill="#fff" stroke="#000" stroke-width="1.8" stroke-linejoin="round"/><g><circle cx="142.77" cy="121.50" r="4.30" fill="#2d5076"/><circle cx="148.27" cy="118.10" r="4.90" fill="#2d5076"/><circle cx="153.37" cy="121.20" r="4.30" fill="#2d5076"/><rect x="142.77" y="120.50" width="10.60" height="5.15" fill="#2d5076"/><circle cx="142.77" cy="121.50" r="2.70" fill="#d3d3d3"/><circle cx="148.27" cy="118.10" r="3.30" fill="#d3d3d3"/><circle cx="153.37" cy="121.20" r="2.70" fill="#d3d3d3"/><rect x="142.77" y="120.50" width="10.60" height="3.55" fill="#d3d3d3"/><path d="M144.25,118.33 A3.50,3.50 0 0 1 146.26,121.81" fill="none" stroke="#2d5076" stroke-width="1.44" stroke-linecap="round"/></g>
<line x1="180.32" y1="105.28" x2="181.11" y2="101.56" stroke="#d4c23a" stroke-width="2.9" stroke-linecap="round"/><line x1="180.32" y1="105.28" x2="181.11" y2="101.56" stroke="#f3e41e" stroke-width="2.1" stroke-linecap="round"/><line x1="185.50" y1="108.83" x2="188.68" y2="106.76" stroke="#d4c23a" stroke-width="2.9" stroke-linecap="round"/><line x1="185.50" y1="108.83" x2="188.68" y2="106.76" stroke="#f3e41e" stroke-width="2.1" stroke-linecap="round"/><line x1="186.64" y1="115.00" x2="190.36" y2="115.79" stroke="#d4c23a" stroke-width="2.9" stroke-linecap="round"/><line x1="186.64" y1="115.00" x2="190.36" y2="115.79" stroke="#f3e41e" stroke-width="2.1" stroke-linecap="round"/><line x1="183.08" y1="120.18" x2="185.15" y2="123.36" stroke="#d4c23a" stroke-width="2.9" stroke-linecap="round"/><line x1="183.08" y1="120.18" x2="185.15" y2="123.36" stroke="#f3e41e" stroke-width="2.1" stroke-linecap="round"/><line x1="176.91" y1="121.32" x2="176.12" y2="125.04" stroke="#d4c23a" stroke-width="2.9" stroke-linecap="round"/><line x1="176.91" y1="121.32" x2="176.12" y2="125.04" stroke="#f3e41e" stroke-width="2.1" stroke-linecap="round"/><line x1="171.74" y1="117.77" x2="168.55" y2="119.84" stroke="#d4c23a" stroke-width="2.9" stroke-linecap="round"/><line x1="171.74" y1="117.77" x2="168.55" y2="119.84" stroke="#f3e41e" stroke-width="2.1" stroke-linecap="round"/><line x1="170.60" y1="111.60" x2="166.88" y2="110.81" stroke="#d4c23a" stroke-width="2.9" stroke-linecap="round"/><line x1="170.60" y1="111.60" x2="166.88" y2="110.81" stroke="#f3e41e" stroke-width="2.1" stroke-linecap="round"/><line x1="174.15" y1="106.42" x2="172.08" y2="103.24" stroke="#d4c23a" stroke-width="2.9" stroke-linecap="round"/><line x1="174.15" y1="106.42" x2="172.08" y2="103.24" stroke="#f3e41e" stroke-width="2.1" stroke-linecap="round"/><circle cx="178.62" cy="113.30" r="6.30" fill="#f3e41e" stroke="#f0a430" stroke-width="0.9"/>
<line x1="214.87" y1="105.28" x2="215.66" y2="101.56" stroke="#d4c23a" stroke-width="2.9" stroke-linecap="round"/><line x1="214.87" y1="105.28" x2="215.66" y2="101.56" stroke="#f3e41e" stroke-width="2.1" stroke-linecap="round"/><line x1="220.04" y1="108.83" x2="223.23" y2="106.76" stroke="#d4c23a" stroke-width="2.9" stroke-linecap="round"/><line x1="220.04" y1="108.83" x2="223.23" y2="106.76" stroke="#f3e41e" stroke-width="2.1" stroke-linecap="round"/><line x1="221.18" y1="115.00" x2="224.90" y2="115.79" stroke="#d4c23a" stroke-width="2.9" stroke-linecap="round"/><line x1="221.18" y1="115.00" x2="224.90" y2="115.79" stroke="#f3e41e" stroke-width="2.1" stroke-linecap="round"/><line x1="217.63" y1="120.18" x2="219.70" y2="123.36" stroke="#d4c23a" stroke-width="2.9" stroke-linecap="round"/><line x1="217.63" y1="120.18" x2="219.70" y2="123.36" stroke="#f3e41e" stroke-width="2.1" stroke-linecap="round"/><line x1="211.46" y1="121.32" x2="210.67" y2="125.04" stroke="#d4c23a" stroke-width="2.9" stroke-linecap="round"/><line x1="211.46" y1="121.32" x2="210.67" y2="125.04" stroke="#f3e41e" stroke-width="2.1" stroke-linecap="round"/><line x1="206.29" y1="117.77" x2="203.10" y2="119.84" stroke="#d4c23a" stroke-width="2.9" stroke-linecap="round"/><line x1="206.29" y1="117.77" x2="203.10" y2="119.84" stroke="#f3e41e" stroke-width="2.1" stroke-linecap="round"/><line x1="205.14" y1="111.60" x2="201.43" y2="110.81" stroke="#d4c23a" stroke-width="2.9" stroke-linecap="round"/><line x1="205.14" y1="111.60" x2="201.43" y2="110.81" stroke="#f3e41e" stroke-width="2.1" stroke-linecap="round"/><line x1="208.70" y1="106.42" x2="206.63" y2="103.24" stroke="#d4c23a" stroke-width="2.9" stroke-linecap="round"/><line x1="208.70" y1="106.42" x2="206.63" y2="103.24" stroke="#f3e41e" stroke-width="2.1" stroke-linecap="round"/><circle cx="213.16" cy="113.30" r="6.30" fill="#f3e41e" stroke="#f0a430" stroke-width="0.9"/>
<path d="M253.81,101.50 A11.92,11.92 0 1 0 253.81,125.30 A18.96,18.96 0 0 1 253.81,101.50Z" fill="#fff" stroke="#000" stroke-width="1.8" stroke-linejoin="round"/>
<path d="M288.36,101.50 A11.92,11.92 0 1 0 288.36,125.30 A18.96,18.96 0 0 1 288.36,101.50Z" fill="#fff" stroke="#000" stroke-width="1.8" stroke-linejoin="round"/>
<line x1="318.51" y1="105.28" x2="319.30" y2="101.56" stroke="#d4c23a" stroke-width="2.9" stroke-linecap="round"/><line x1="318.51" y1="105.28" x2="319.30" y2="101.56" stroke="#f3e41e" stroke-width="2.1" stroke-linecap="round"/><line x1="323.68" y1="108.83" x2="326.86" y2="106.76" stroke="#d4c23a" stroke-width="2.9" stroke-linecap="round"/><line x1="323.68" y1="108.83" x2="326.86" y2="106.76" stroke="#f3e41e" stroke-width="2.1" stroke-linecap="round"/><line x1="324.82" y1="115.00" x2="328.54" y2="115.79" stroke="#d4c23a" stroke-width="2.9" stroke-linecap="round"/><line x1="324.82" y1="115.00" x2="328.54" y2="115.79" stroke="#f3e41e" stroke-width="2.1" stroke-linecap="round"/><line x1="321.27" y1="120.18" x2="323.34" y2="123.36" stroke="#d4c23a" stroke-width="2.9" stroke-linecap="round"/><line x1="321.27" y1="120.18" x2="323.34" y2="123.36" stroke="#f3e41e" stroke-width="2.1" stroke-linecap="round"/><line x1="315.10" y1="121.32" x2="314.31" y2="125.04" stroke="#d4c23a" stroke-width="2.9" stroke-linecap="round"/><line x1="315.10" y1="121.32" x2="314.31" y2="125.04" stroke="#f3e41e" stroke-width="2.1" stroke-linecap="round"/><line x1="309.92" y1="117.77" x2="306.74" y2="119.84" stroke="#d4c23a" stroke-width="2.9" stroke-linecap="round"/><line x1="309.92" y1="117.77" x2="306.74" y2="119.84" stroke="#f3e41e" stroke-width="2.1" stroke-linecap="round"/><line x1="308.78" y1="111.60" x2="305.06" y2="110.81" stroke="#d4c23a" stroke-width="2.9" stroke-linecap="round"/><line x1="308.78" y1="111.60" x2="305.06" y2="110.81" stroke="#f3e41e" stroke-width="2.1" stroke-linecap="round"/><line x1="312.33" y1="106.42" x2="310.27" y2="103.24" stroke="#d4c23a" stroke-width="2.9" stroke-linecap="round"/><line x1="312.33" y1="106.42" x2="310.27" y2="103.24" stroke="#f3e41e" stroke-width="2.1" stroke-linecap="round"/><circle cx="316.80" cy="113.30" r="6.30" fill="#f3e41e" stroke="#f0a430" stroke-width="0.9"/>
<line x1="350.75" y1="104.78" x2="351.54" y2="101.06" stroke="#d4c23a" stroke-width="2.9" stroke-linecap="round"/><line x1="350.75" y1="104.78" x2="351.54" y2="101.06" stroke="#f3e41e" stroke-width="2.1" stroke-linecap="round"/><line x1="355.92" y1="108.33" x2="359.11" y2="106.26" stroke="#d4c23a" stroke-width="2.9" stroke-linecap="round"/><line x1="355.92" y1="108.33" x2="359.11" y2="106.26" stroke="#f3e41e" stroke-width="2.1" stroke-linecap="round"/><line x1="357.07" y1="114.50" x2="360.78" y2="115.29" stroke="#d4c23a" stroke-width="2.9" stroke-linecap="round"/><line x1="357.07" y1="114.50" x2="360.78" y2="115.29" stroke="#f3e41e" stroke-width="2.1" stroke-linecap="round"/><line x1="353.51" y1="119.68" x2="355.58" y2="122.86" stroke="#d4c23a" stroke-width="2.9" stroke-linecap="round"/><line x1="353.51" y1="119.68" x2="355.58" y2="122.86" stroke="#f3e41e" stroke-width="2.1" stroke-linecap="round"/><line x1="347.34" y1="120.82" x2="346.55" y2="124.54" stroke="#d4c23a" stroke-width="2.9" stroke-linecap="round"/><line x1="347.34" y1="120.82" x2="346.55" y2="124.54" stroke="#f3e41e" stroke-width="2.1" stroke-linecap="round"/><line x1="342.17" y1="117.27" x2="338.98" y2="119.34" stroke="#d4c23a" stroke-width="2.9" stroke-linecap="round"/><line x1="342.17" y1="117.27" x2="338.98" y2="119.34" stroke="#f3e41e" stroke-width="2.1" stroke-linecap="round"/><line x1="341.03" y1="111.10" x2="337.31" y2="110.31" stroke="#d4c23a" stroke-width="2.9" stroke-linecap="round"/><line x1="341.03" y1="111.10" x2="337.31" y2="110.31" stroke="#f3e41e" stroke-width="2.1" stroke-linecap="round"/><line x1="344.58" y1="105.92" x2="342.51" y2="102.74" stroke="#d4c23a" stroke-width="2.9" stroke-linecap="round"/><line x1="344.58" y1="105.92" x2="342.51" y2="102.74" stroke="#f3e41e" stroke-width="2.1" stroke-linecap="round"/><circle cx="349.05" cy="112.80" r="6.30" fill="#f3e41e" stroke="#f0a430" stroke-width="0.9"/><g><circle cx="352.35" cy="121.10" r="4.30" fill="#2a62be"/><circle cx="357.85" cy="117.70" r="4.90" fill="#2a62be"/><circle cx="362.95" cy="120.80" r="4.30" fill="#2a62be"/><rect x="352.35" y="120.10" width="10.60" height="5.15" fill="#2a62be"/><circle cx="352.35" cy="121.10" r="2.70" fill="#fff"/><circle cx="357.85" cy="117.70" r="3.30" fill="#fff"/><circle cx="362.95" cy="120.80" r="2.70" fill="#fff"/><rect x="352.35" y="120.10" width="10.60" height="3.55" fill="#fff"/><path d="M359.45,120.80 A3.50,3.50 0 0 1 361.47,117.63" fill="none" stroke="#2a62be" stroke-width="1.44" stroke-linecap="round"/></g>
<path d="M388.59,101.50 A11.92,11.92 0 1 0 388.59,125.30 A18.96,18.96 0 0 1 388.59,101.50Z" fill="#fff" stroke="#000" stroke-width="1.8" stroke-linejoin="round"/><g><circle cx="384.59" cy="121.50" r="4.30" fill="#2d5076"/><circle cx="390.09" cy="118.10" r="4.90" fill="#2d5076"/><circle cx="395.19" cy="121.20" r="4.30" fill="#2d5076"/><rect x="384.59" y="120.50" width="10.60" height="5.15" fill="#2d5076"/><circle cx="384.59" cy="121.50" r="2.70" fill="#d3d3d3"/><circle cx="390.09" cy="118.10" r="3.30" fill="#d3d3d3"/><circle cx="395.19" cy="121.20" r="2.70" fill="#d3d3d3"/><rect x="384.59" y="120.50" width="10.60" height="3.55" fill="#d3d3d3"/><path d="M386.07,118.33 A3.50,3.50 0 0 1 388.08,121.81" fill="none" stroke="#2d5076" stroke-width="1.44" stroke-linecap="round"/></g>
<path d="M423.14,101.50 A11.92,11.92 0 1 0 423.14,125.30 A18.96,18.96 0 0 1 423.14,101.50Z" fill="#fff" stroke="#000" stroke-width="1.8" stroke-linejoin="round"/><g><circle cx="419.14" cy="121.50" r="4.30" fill="#2d5076"/><circle cx="424.64" cy="118.10" r="4.90" fill="#2d5076"/><circle cx="429.74" cy="121.20" r="4.30" fill="#2d5076"/><rect x="419.14" y="120.50" width="10.60" height="5.15" fill="#2d5076"/><circle cx="419.14" cy="121.50" r="2.70" fill="#d3d3d3"/><circle cx="424.64" cy="118.10" r="3.30" fill="#d3d3d3"/><circle cx="429.74" cy="121.20" r="2.70" fill="#d3d3d3"/><rect x="419.14" y="120.50" width="10.60" height="3.55" fill="#d3d3d3"/><path d="M420.62,118.33 A3.50,3.50 0 0 1 422.62,121.81" fill="none" stroke="#2d5076" stroke-width="1.44" stroke-linecap="round"/></g>
<line x1="454.39" y1="104.78" x2="455.18" y2="101.06" stroke="#d4c23a" stroke-width="2.9" stroke-linecap="round"/><line x1="454.39" y1="104.78" x2="455.18" y2="101.06" stroke="#f3e41e" stroke-width="2.1" stroke-linecap="round"/><line x1="459.56" y1="108.33" x2="462.75" y2="106.26" stroke="#d4c23a" stroke-width="2.9" stroke-linecap="round"/><line x1="459.56" y1="108.33" x2="462.75" y2="106.26" stroke="#f3e41e" stroke-width="2.1" stroke-linecap="round"/><line x1="460.70" y1="114.50" x2="464.42" y2="115.29" stroke="#d4c23a" stroke-width="2.9" stroke-linecap="round"/><line x1="460.70" y1="114.50" x2="464.42" y2="115.29" stroke="#f3e41e" stroke-width="2.1" stroke-linecap="round"/><line x1="457.15" y1="119.68" x2="459.22" y2="122.86" stroke="#d4c23a" stroke-width="2.9" stroke-linecap="round"/><line x1="457.15" y1="119.68" x2="459.22" y2="122.86" stroke="#f3e41e" stroke-width="2.1" stroke-linecap="round"/><line x1="450.98" y1="120.82" x2="450.19" y2="124.54" stroke="#d4c23a" stroke-width="2.9" stroke-linecap="round"/><line x1="450.98" y1="120.82" x2="450.19" y2="124.54" stroke="#f3e41e" stroke-width="2.1" stroke-linecap="round"/><line x1="445.81" y1="117.27" x2="442.62" y2="119.34" stroke="#d4c23a" stroke-width="2.9" stroke-linecap="round"/><line x1="445.81" y1="117.27" x2="442.62" y2="119.34" stroke="#f3e41e" stroke-width="2.1" stroke-linecap="round"/><line x1="444.66" y1="111.10" x2="440.95" y2="110.31" stroke="#d4c23a" stroke-width="2.9" stroke-linecap="round"/><line x1="444.66" y1="111.10" x2="440.95" y2="110.31" stroke="#f3e41e" stroke-width="2.1" stroke-linecap="round"/><line x1="448.22" y1="105.92" x2="446.15" y2="102.74" stroke="#d4c23a" stroke-width="2.9" stroke-linecap="round"/><line x1="448.22" y1="105.92" x2="446.15" y2="102.74" stroke="#f3e41e" stroke-width="2.1" stroke-linecap="round"/><circle cx="452.68" cy="112.80" r="6.30" fill="#f3e41e" stroke="#f0a430" stroke-width="0.9"/><g><circle cx="455.98" cy="121.10" r="4.30" fill="#2a62be"/><circle cx="461.48" cy="117.70" r="4.90" fill="#2a62be"/><circle cx="466.58" cy="120.80" r="4.30" fill="#2a62be"/><rect x="455.98" y="120.10" width="10.60" height="5.15" fill="#2a62be"/><circle cx="455.98" cy="121.10" r="2.70" fill="#fff"/><circle cx="461.48" cy="117.70" r="3.30" fill="#fff"/><circle cx="466.58" cy="120.80" r="2.70" fill="#fff"/><rect x="455.98" y="120.10" width="10.60" height="3.55" fill="#fff"/><path d="M463.08,120.80 A3.50,3.50 0 0 1 465.10,117.63" fill="none" stroke="#2a62be" stroke-width="1.44" stroke-linecap="round"/></g>
<line x1="491.23" y1="105.28" x2="492.02" y2="101.56" stroke="#d4c23a" stroke-width="2.9" stroke-linecap="round"/><line x1="491.23" y1="105.28" x2="492.02" y2="101.56" stroke="#f3e41e" stroke-width="2.1" stroke-linecap="round"/><line x1="496.41" y1="108.83" x2="499.59" y2="106.76" stroke="#d4c23a" stroke-width="2.9" stroke-linecap="round"/><line x1="496.41" y1="108.83" x2="499.59" y2="106.76" stroke="#f3e41e" stroke-width="2.1" stroke-linecap="round"/><line x1="497.55" y1="115.00" x2="501.27" y2="115.79" stroke="#d4c23a" stroke-width="2.9" stroke-linecap="round"/><line x1="497.55" y1="115.00" x2="501.27" y2="115.79" stroke="#f3e41e" stroke-width="2.1" stroke-linecap="round"/><line x1="493.99" y1="120.18" x2="496.06" y2="123.36" stroke="#d4c23a" stroke-width="2.9" stroke-linecap="round"/><line x1="493.99" y1="120.18" x2="496.06" y2="123.36" stroke="#f3e41e" stroke-width="2.1" stroke-linecap="round"/><line x1="487.82" y1="121.32" x2="487.03" y2="125.04" stroke="#d4c23a" stroke-width="2.9" stroke-linecap="round"/><line x1="487.82" y1="121.32" x2="487.03" y2="125.04" stroke="#f3e41e" stroke-width="2.1" stroke-linecap="round"/><line x1="482.65" y1="117.77" x2="479.46" y2="119.84" stroke="#d4c23a" stroke-width="2.9" stroke-linecap="round"/><line x1="482.65" y1="117.77" x2="479.46" y2="119.84" stroke="#f3e41e" stroke-width="2.1" stroke-linecap="round"/><line x1="481.51" y1="111.60" x2="477.79" y2="110.81" stroke="#d4c23a" stroke-width="2.9" stroke-linecap="round"/><line x1="481.51" y1="111.60" x2="477.79" y2="110.81" stroke="#f3e41e" stroke-width="2.1" stroke-linecap="round"/><line x1="485.06" y1="106.42" x2="482.99" y2="103.24" stroke="#d4c23a" stroke-width="2.9" stroke-linecap="round"/><line x1="485.06" y1="106.42" x2="482.99" y2="103.24" stroke="#f3e41e" stroke-width="2.1" stroke-linecap="round"/><circle cx="489.53" cy="113.30" r="6.30" fill="#f3e41e" stroke="#f0a430" stroke-width="0.9"/>
<path d="M530.17,101.50 A11.92,11.92 0 1 0 530.17,125.30 A18.96,18.96 0 0 1 530.17,101.50Z" fill="#fff" stroke="#000" stroke-width="1.8" stroke-linejoin="round"/>
<path d="M564.72,101.50 A11.92,11.92 0 1 0 564.72,125.30 A18.96,18.96 0 0 1 564.72,101.50Z" fill="#fff" stroke="#000" stroke-width="1.8" stroke-linejoin="round"/>
<line x1="592.57" y1="104.78" x2="593.36" y2="101.06" stroke="#d4c23a" stroke-width="2.9" stroke-linecap="round"/><line x1="592.57" y1="104.78" x2="593.36" y2="101.06" stroke="#f3e41e" stroke-width="2.1" stroke-linecap="round"/><line x1="597.74" y1="108.33" x2="600.93" y2="106.26" stroke="#d4c23a" stroke-width="2.9" stroke-linecap="round"/><line x1="597.74" y1="108.33" x2="600.93" y2="106.26" stroke="#f3e41e" stroke-width="2.1" stroke-linecap="round"/><line x1="598.89" y1="114.50" x2="602.60" y2="115.29" stroke="#d4c23a" stroke-width="2.9" stroke-linecap="round"/><line x1="598.89" y1="114.50" x2="602.60" y2="115.29" stroke="#f3e41e" stroke-width="2.1" stroke-linecap="round"/><line x1="595.33" y1="119.68" x2="597.40" y2="122.86" stroke="#d4c23a" stroke-width="2.9" stroke-linecap="round"/><line x1="595.33" y1="119.68" x2="597.40" y2="122.86" stroke="#f3e41e" stroke-width="2.1" stroke-linecap="round"/><line x1="589.16" y1="120.82" x2="588.37" y2="124.54" stroke="#d4c23a" stroke-width="2.9" stroke-linecap="round"/><line x1="589.16" y1="120.82" x2="588.37" y2="124.54" stroke="#f3e41e" stroke-width="2.1" stroke-linecap="round"/><line x1="583.99" y1="117.27" x2="580.80" y2="119.34" stroke="#d4c23a" stroke-width="2.9" stroke-linecap="round"/><line x1="583.99" y1="117.27" x2="580.80" y2="119.34" stroke="#f3e41e" stroke-width="2.1" stroke-linecap="round"/><line x1="582.84" y1="111.10" x2="579.13" y2="110.31" stroke="#d4c23a" stroke-width="2.9" stroke-linecap="round"/><line x1="582.84" y1="111.10" x2="579.13" y2="110.31" stroke="#f3e41e" stroke-width="2.1" stroke-linecap="round"/><line x1="586.40" y1="105.92" x2="584.33" y2="102.74" stroke="#d4c23a" stroke-width="2.9" stroke-linecap="round"/><line x1="586.40" y1="105.92" x2="584.33" y2="102.74" stroke="#f3e41e" stroke-width="2.1" stroke-linecap="round"/><circle cx="590.87" cy="112.80" r="6.30" fill="#f3e41e" stroke="#f0a430" stroke-width="0.9"/><g><circle cx="594.17" cy="121.10" r="4.30" fill="#2a62be"/><circle cx="599.67" cy="117.70" r="4.90" fill="#2a62be"/><circle cx="604.77" cy="120.80" r="4.30" fill="#2a62be"/><rect x="594.17" y="120.10" width="10.60" height="5.15" fill="#2a62be"/><circle cx="594.17" cy="121.10" r="2.70" fill="#fff"/><circle cx="599.67" cy="117.70" r="3.30" fill="#fff"/><circle cx="604.77" cy="120.80" r="2.70" fill="#fff"/><rect x="594.17" y="120.10" width="10.60" height="3.55" fill="#fff"/><path d="M601.27,120.80 A3.50,3.50 0 0 1 603.29,117.63" fill="none" stroke="#2a62be" stroke-width="1.44" stroke-linecap="round"/></g>
<line x1="634.02" y1="104.08" x2="634.81" y2="100.36" stroke="#d4c23a" stroke-width="2.9" stroke-linecap="round"/><line x1="634.02" y1="104.08" x2="634.81" y2="100.36" stroke="#f3e41e" stroke-width="2.1" stroke-linecap="round"/><line x1="639.19" y1="107.63" x2="642.38" y2="105.56" stroke="#d4c23a" stroke-width="2.9" stroke-linecap="round"/><line x1="639.19" y1="107.63" x2="642.38" y2="105.56" stroke="#f3e41e" stroke-width="2.1" stroke-linecap="round"/><line x1="640.33" y1="113.80" x2="644.05" y2="114.59" stroke="#d4c23a" stroke-width="2.9" stroke-linecap="round"/><line x1="640.33" y1="113.80" x2="644.05" y2="114.59" stroke="#f3e41e" stroke-width="2.1" stroke-linecap="round"/><line x1="636.78" y1="118.98" x2="638.85" y2="122.16" stroke="#d4c23a" stroke-width="2.9" stroke-linecap="round"/><line x1="636.78" y1="118.98" x2="638.85" y2="122.16" stroke="#f3e41e" stroke-width="2.1" stroke-linecap="round"/><line x1="630.61" y1="120.12" x2="629.82" y2="123.84" stroke="#d4c23a" stroke-width="2.9" stroke-linecap="round"/><line x1="630.61" y1="120.12" x2="629.82" y2="123.84" stroke="#f3e41e" stroke-width="2.1" stroke-linecap="round"/><line x1="625.43" y1="116.57" x2="622.25" y2="118.64" stroke="#d4c23a" stroke-width="2.9" stroke-linecap="round"/><line x1="625.43" y1="116.57" x2="622.25" y2="118.64" stroke="#f3e41e" stroke-width="2.1" stroke-linecap="round"/><line x1="624.29" y1="110.40" x2="620.57" y2="109.61" stroke="#d4c23a" stroke-width="2.9" stroke-linecap="round"/><line x1="624.29" y1="110.40" x2="620.57" y2="109.61" stroke="#f3e41e" stroke-width="2.1" stroke-linecap="round"/><line x1="627.85" y1="105.22" x2="625.78" y2="102.04" stroke="#d4c23a" stroke-width="2.9" stroke-linecap="round"/><line x1="627.85" y1="105.22" x2="625.78" y2="102.04" stroke="#f3e41e" stroke-width="2.1" stroke-linecap="round"/><circle cx="632.31" cy="112.10" r="6.30" fill="#f3e41e" stroke="#f0a430" stroke-width="0.9"/><g><circle cx="617.01" cy="121.60" r="5.15" fill="#2a62be"/><circle cx="623.51" cy="118.20" r="5.95" fill="#2a62be"/><circle cx="630.01" cy="122.00" r="5.25" fill="#2a62be"/><rect x="617.01" y="121.00" width="13.00" height="6.00" fill="#2a62be"/><circle cx="617.01" cy="121.60" r="3.45" fill="#d3d3d3"/><circle cx="623.51" cy="118.20" r="4.25" fill="#d3d3d3"/><circle cx="630.01" cy="122.00" r="3.55" fill="#d3d3d3"/><rect x="617.01" y="121.00" width="13.00" height="4.30" fill="#d3d3d3"/><path d="M625.61,122.00 A4.40,4.40 0 0 1 628.51,117.87" fill="none" stroke="#2a62be" stroke-width="1.53" stroke-linecap="round"/></g>
<g><circle cx="650.96" cy="117.40" r="5.95" fill="#2d5076"/><circle cx="662.16" cy="110.60" r="6.95" fill="#2d5076"/><circle cx="673.86" cy="114.80" r="6.25" fill="#2d5076"/><rect x="650.96" y="112.30" width="22.90" height="9.90" fill="#2d5076"/><circle cx="650.96" cy="117.40" r="4.25" fill="#d3d3d3"/><circle cx="662.16" cy="110.60" r="5.25" fill="#d3d3d3"/><circle cx="673.86" cy="114.80" r="4.55" fill="#d3d3d3"/><rect x="650.96" y="112.30" width="22.90" height="8.20" fill="#d3d3d3"/></g><g><circle cx="658.66" cy="120.30" r="5.65" fill="#2d5076"/><circle cx="665.06" cy="115.60" r="6.25" fill="#2d5076"/><circle cx="672.46" cy="120.50" r="5.55" fill="#2d5076"/><rect x="658.66" y="119.50" width="13.80" height="6.50" fill="#2d5076"/><circle cx="658.66" cy="120.30" r="3.95" fill="#fff"/><circle cx="665.06" cy="115.60" r="4.55" fill="#fff"/><circle cx="672.46" cy="120.50" r="3.85" fill="#fff"/><rect x="658.66" y="119.50" width="13.80" height="4.80" fill="#fff"/><path d="M667.77,120.09 A4.70,4.70 0 0 1 671.64,115.87" fill="none" stroke="#2d5076" stroke-width="1.53" stroke-linecap="round"/></g>
<g><circle cx="685.50" cy="117.40" r="5.95" fill="#2d5076"/><circle cx="696.70" cy="110.60" r="6.95" fill="#2d5076"/><circle cx="708.40" cy="114.80" r="6.25" fill="#2d5076"/><rect x="685.50" y="112.30" width="22.90" height="9.90" fill="#2d5076"/><circle cx="685.50" cy="117.40" r="4.25" fill="#d3d3d3"/><circle cx="696.70" cy="110.60" r="5.25" fill="#d3d3d3"/><circle cx="708.40" cy="114.80" r="4.55" fill="#d3d3d3"/><rect x="685.50" y="112.30" width="22.90" height="8.20" fill="#d3d3d3"/></g><g><circle cx="693.20" cy="120.30" r="5.65" fill="#2d5076"/><circle cx="699.60" cy="115.60" r="6.25" fill="#2d5076"/><circle cx="707.00" cy="120.50" r="5.55" fill="#2d5076"/><rect x="693.20" y="119.50" width="13.80" height="6.50" fill="#2d5076"/><circle cx="693.20" cy="120.30" r="3.95" fill="#fff"/><circle cx="699.60" cy="115.60" r="4.55" fill="#fff"/><circle cx="707.00" cy="120.50" r="3.85" fill="#fff"/><rect x="693.20" y="119.50" width="13.80" height="4.80" fill="#fff"/><path d="M702.32,120.09 A4.70,4.70 0 0 1 706.19,115.87" fill="none" stroke="#2d5076" stroke-width="1.53" stroke-linecap="round"/></g><line x1="694.50" y1="128.2" x2="693.50" y2="133.4" stroke="#2d5076" stroke-width="2.0"/><line x1="698.50" y1="128.2" x2="697.50" y2="133.4" stroke="#2d5076" stroke-width="2.0"/>
<g><circle cx="720.05" cy="117.40" r="5.95" fill="#2a62be"/><circle cx="731.25" cy="110.60" r="6.95" fill="#2a62be"/><circle cx="742.95" cy="114.80" r="6.25" fill="#2a62be"/><rect x="720.05" y="112.30" width="22.90" height="9.90" fill="#2a62be"/><circle cx="720.05" cy="117.40" r="4.25" fill="#d3d3d3"/><circle cx="731.25" cy="110.60" r="5.25" fill="#d3d3d3"/><circle cx="742.95" cy="114.80" r="4.55" fill="#d3d3d3"/><rect x="720.05" y="112.30" width="22.90" height="8.20" fill="#d3d3d3"/></g><g><circle cx="727.75" cy="120.30" r="5.65" fill="#2a62be"/><circle cx="734.15" cy="115.60" r="6.25" fill="#2a62be"/><circle cx="741.55" cy="120.50" r="5.55" fill="#2a62be"/><rect x="727.75" y="119.50" width="13.80" height="6.50" fill="#2a62be"/><circle cx="727.75" cy="120.30" r="3.95" fill="#fff"/><circle cx="734.15" cy="115.60" r="4.55" fill="#fff"/><circle cx="741.55" cy="120.50" r="3.85" fill="#fff"/><rect x="727.75" y="119.50" width="13.80" height="4.80" fill="#fff"/><path d="M736.87,120.09 A4.70,4.70 0 0 1 740.73,115.87" fill="none" stroke="#2a62be" stroke-width="1.53" stroke-linecap="round"/></g><line x1="729.05" y1="128.2" x2="728.05" y2="133.4" stroke="#2a62be" stroke-width="2.0"/><line x1="733.05" y1="128.2" x2="732.05" y2="133.4" stroke="#2a62be" stroke-width="2.0"/>
<g><circle cx="754.59" cy="117.40" r="5.95" fill="#2a62be"/><circle cx="765.79" cy="110.60" r="6.95" fill="#2a62be"/><circle cx="777.49" cy="114.80" r="6.25" fill="#2a62be"/><rect x="754.59" y="112.30" width="22.90" height="9.90" fill="#2a62be"/><circle cx="754.59" cy="117.40" r="4.25" fill="#d3d3d3"/><circle cx="765.79" cy="110.60" r="5.25" fill="#d3d3d3"/><circle cx="777.49" cy="114.80" r="4.55" fill="#d3d3d3"/><rect x="754.59" y="112.30" width="22.90" height="8.20" fill="#d3d3d3"/></g><g><circle cx="762.29" cy="120.30" r="5.65" fill="#2a62be"/><circle cx="768.69" cy="115.60" r="6.25" fill="#2a62be"/><circle cx="776.09" cy="120.50" r="5.55" fill="#2a62be"/><rect x="762.29" y="119.50" width="13.80" height="6.50" fill="#2a62be"/><circle cx="762.29" cy="120.30" r="3.95" fill="#fff"/><circle cx="768.69" cy="115.60" r="4.55" fill="#fff"/><circle cx="776.09" cy="120.50" r="3.85" fill="#fff"/><rect x="762.29" y="119.50" width="13.80" height="4.80" fill="#fff"/><path d="M771.41,120.09 A4.70,4.70 0 0 1 775.28,115.87" fill="none" stroke="#2a62be" stroke-width="1.53" stroke-linecap="round"/></g><line x1="763.59" y1="128.2" x2="762.59" y2="133.4" stroke="#2a62be" stroke-width="2.0"/><line x1="767.59" y1="128.2" x2="766.59" y2="133.4" stroke="#2a62be" stroke-width="2.0"/>
<path d="M800.04,101.30 A11.92,11.92 0 1 0 800.04,125.10 A18.96,18.96 0 0 1 800.04,101.30Z" fill="#fff" stroke="#000" stroke-width="1.8" stroke-linejoin="round"/><g><circle cx="796.58" cy="119.86" r="5.58" fill="#2d5076"/><circle cx="803.73" cy="116.12" r="6.46" fill="#2d5076"/><circle cx="810.88" cy="120.30" r="5.69" fill="#2d5076"/><rect x="796.58" y="119.30" width="14.30" height="6.42" fill="#2d5076"/><circle cx="796.58" cy="119.86" r="3.88" fill="#d3d3d3"/><circle cx="803.73" cy="116.12" r="4.76" fill="#d3d3d3"/><circle cx="810.88" cy="120.30" r="3.99" fill="#d3d3d3"/><rect x="796.58" y="119.30" width="14.30" height="4.72" fill="#d3d3d3"/><path d="M806.04,120.30 A4.84,4.84 0 0 1 809.22,115.75" fill="none" stroke="#2d5076" stroke-width="1.53" stroke-linecap="round"/></g>
<path d="M834.58,101.30 A11.92,11.92 0 1 0 834.58,125.10 A18.96,18.96 0 0 1 834.58,101.30Z" fill="#fff" stroke="#000" stroke-width="1.8" stroke-linejoin="round"/><g><circle cx="831.12" cy="119.86" r="5.58" fill="#2d5076"/><circle cx="838.27" cy="116.12" r="6.46" fill="#2d5076"/><circle cx="845.42" cy="120.30" r="5.69" fill="#2d5076"/><rect x="831.12" y="119.30" width="14.30" height="6.42" fill="#2d5076"/><circle cx="831.12" cy="119.86" r="3.88" fill="#d3d3d3"/><circle cx="838.27" cy="116.12" r="4.76" fill="#d3d3d3"/><circle cx="845.42" cy="120.30" r="3.99" fill="#d3d3d3"/><rect x="831.12" y="119.30" width="14.30" height="4.72" fill="#d3d3d3"/><path d="M840.58,120.30 A4.84,4.84 0 0 1 843.77,115.75" fill="none" stroke="#2d5076" stroke-width="1.53" stroke-linecap="round"/></g>
<line x1="875.84" y1="104.08" x2="876.63" y2="100.36" stroke="#d4c23a" stroke-width="2.9" stroke-linecap="round"/><line x1="875.84" y1="104.08" x2="876.63" y2="100.36" stroke="#f3e41e" stroke-width="2.1" stroke-linecap="round"/><line x1="881.01" y1="107.63" x2="884.19" y2="105.56" stroke="#d4c23a" stroke-width="2.9" stroke-linecap="round"/><line x1="881.01" y1="107.63" x2="884.19" y2="105.56" stroke="#f3e41e" stroke-width="2.1" stroke-linecap="round"/><line x1="882.15" y1="113.80" x2="885.87" y2="114.59" stroke="#d4c23a" stroke-width="2.9" stroke-linecap="round"/><line x1="882.15" y1="113.80" x2="885.87" y2="114.59" stroke="#f3e41e" stroke-width="2.1" stroke-linecap="round"/><line x1="878.60" y1="118.98" x2="880.67" y2="122.16" stroke="#d4c23a" stroke-width="2.9" stroke-linecap="round"/><line x1="878.60" y1="118.98" x2="880.67" y2="122.16" stroke="#f3e41e" stroke-width="2.1" stroke-linecap="round"/><line x1="872.43" y1="120.12" x2="871.64" y2="123.84" stroke="#d4c23a" stroke-width="2.9" stroke-linecap="round"/><line x1="872.43" y1="120.12" x2="871.64" y2="123.84" stroke="#f3e41e" stroke-width="2.1" stroke-linecap="round"/><line x1="867.25" y1="116.57" x2="864.07" y2="118.64" stroke="#d4c23a" stroke-width="2.9" stroke-linecap="round"/><line x1="867.25" y1="116.57" x2="864.07" y2="118.64" stroke="#f3e41e" stroke-width="2.1" stroke-linecap="round"/><line x1="866.11" y1="110.40" x2="862.39" y2="109.61" stroke="#d4c23a" stroke-width="2.9" stroke-linecap="round"/><line x1="866.11" y1="110.40" x2="862.39" y2="109.61" stroke="#f3e41e" stroke-width="2.1" stroke-linecap="round"/><line x1="869.66" y1="105.22" x2="867.59" y2="102.04" stroke="#d4c23a" stroke-width="2.9" stroke-linecap="round"/><line x1="869.66" y1="105.22" x2="867.59" y2="102.04" stroke="#f3e41e" stroke-width="2.1" stroke-linecap="round"/><circle cx="874.13" cy="112.10" r="6.30" fill="#f3e41e" stroke="#f0a430" stroke-width="0.9"/><g><circle cx="858.83" cy="121.60" r="5.15" fill="#2a62be"/><circle cx="865.33" cy="118.20" r="5.95" fill="#2a62be"/><circle cx="871.83" cy="122.00" r="5.25" fill="#2a62be"/><rect x="858.83" y="121.00" width="13.00" height="6.00" fill="#2a62be"/><circle cx="858.83" cy="121.60" r="3.45" fill="#d3d3d3"/><circle cx="865.33" cy="118.20" r="4.25" fill="#d3d3d3"/><circle cx="871.83" cy="122.00" r="3.55" fill="#d3d3d3"/><rect x="858.83" y="121.00" width="13.00" height="4.30" fill="#d3d3d3"/><path d="M867.43,122.00 A4.40,4.40 0 0 1 870.33,117.87" fill="none" stroke="#2a62be" stroke-width="1.53" stroke-linecap="round"/></g>
<line x1="903.48" y1="104.78" x2="904.27" y2="101.06" stroke="#d4c23a" stroke-width="2.9" stroke-linecap="round"/><line x1="903.48" y1="104.78" x2="904.27" y2="101.06" stroke="#f3e41e" stroke-width="2.1" stroke-linecap="round"/><line x1="908.65" y1="108.33" x2="911.84" y2="106.26" stroke="#d4c23a" stroke-width="2.9" stroke-linecap="round"/><line x1="908.65" y1="108.33" x2="911.84" y2="106.26" stroke="#f3e41e" stroke-width="2.1" stroke-linecap="round"/><line x1="909.80" y1="114.50" x2="913.51" y2="115.29" stroke="#d4c23a" stroke-width="2.9" stroke-linecap="round"/><line x1="909.80" y1="114.50" x2="913.51" y2="115.29" stroke="#f3e41e" stroke-width="2.1" stroke-linecap="round"/><line x1="906.24" y1="119.68" x2="908.31" y2="122.86" stroke="#d4c23a" stroke-width="2.9" stroke-linecap="round"/><line x1="906.24" y1="119.68" x2="908.31" y2="122.86" stroke="#f3e41e" stroke-width="2.1" stroke-linecap="round"/><line x1="900.07" y1="120.82" x2="899.28" y2="124.54" stroke="#d4c23a" stroke-width="2.9" stroke-linecap="round"/><line x1="900.07" y1="120.82" x2="899.28" y2="124.54" stroke="#f3e41e" stroke-width="2.1" stroke-linecap="round"/><line x1="894.90" y1="117.27" x2="891.71" y2="119.34" stroke="#d4c23a" stroke-width="2.9" stroke-linecap="round"/><line x1="894.90" y1="117.27" x2="891.71" y2="119.34" stroke="#f3e41e" stroke-width="2.1" stroke-linecap="round"/><line x1="893.76" y1="111.10" x2="890.04" y2="110.31" stroke="#d4c23a" stroke-width="2.9" stroke-linecap="round"/><line x1="893.76" y1="111.10" x2="890.04" y2="110.31" stroke="#f3e41e" stroke-width="2.1" stroke-linecap="round"/><line x1="897.31" y1="105.92" x2="895.24" y2="102.74" stroke="#d4c23a" stroke-width="2.9" stroke-linecap="round"/><line x1="897.31" y1="105.92" x2="895.24" y2="102.74" stroke="#f3e41e" stroke-width="2.1" stroke-linecap="round"/><circle cx="901.78" cy="112.80" r="6.30" fill="#f3e41e" stroke="#f0a430" stroke-width="0.9"/><g><circle cx="905.08" cy="121.10" r="4.30" fill="#2a62be"/><circle cx="910.58" cy="117.70" r="4.90" fill="#2a62be"/><circle cx="915.68" cy="120.80" r="4.30" fill="#2a62be"/><rect x="905.08" y="120.10" width="10.60" height="5.15" fill="#2a62be"/><circle cx="905.08" cy="121.10" r="2.70" fill="#fff"/><circle cx="910.58" cy="117.70" r="3.30" fill="#fff"/><circle cx="915.68" cy="120.80" r="2.70" fill="#fff"/><rect x="905.08" y="120.10" width="10.60" height="3.55" fill="#fff"/><path d="M912.18,120.80 A3.50,3.50 0 0 1 914.20,117.63" fill="none" stroke="#2a62be" stroke-width="1.44" stroke-linecap="round"/></g>
<path d="M944.72,101.50 A11.92,11.92 0 1 0 944.72,125.30 A18.96,18.96 0 0 1 944.72,101.50Z" fill="#fff" stroke="#000" stroke-width="1.8" stroke-linejoin="round"/>
<path d="M979.27,101.50 A11.92,11.92 0 1 0 979.27,125.30 A18.96,18.96 0 0 1 979.27,101.50Z" fill="#fff" stroke="#000" stroke-width="1.8" stroke-linejoin="round"/>
<line x1="1007.12" y1="104.78" x2="1007.91" y2="101.06" stroke="#d4c23a" stroke-width="2.9" stroke-linecap="round"/><line x1="1007.12" y1="104.78" x2="1007.91" y2="101.06" stroke="#f3e41e" stroke-width="2.1" stroke-linecap="round"/><line x1="1012.29" y1="108.33" x2="1015.48" y2="106.26" stroke="#d4c23a" stroke-width="2.9" stroke-linecap="round"/><line x1="1012.29" y1="108.33" x2="1015.48" y2="106.26" stroke="#f3e41e" stroke-width="2.1" stroke-linecap="round"/><line x1="1013.43" y1="114.50" x2="1017.15" y2="115.29" stroke="#d4c23a" stroke-width="2.9" stroke-linecap="round"/><line x1="1013.43" y1="114.50" x2="1017.15" y2="115.29" stroke="#f3e41e" stroke-width="2.1" stroke-linecap="round"/><line x1="1009.88" y1="119.68" x2="1011.95" y2="122.86" stroke="#d4c23a" stroke-width="2.9" stroke-linecap="round"/><line x1="1009.88" y1="119.68" x2="1011.95" y2="122.86" stroke="#f3e41e" stroke-width="2.1" stroke-linecap="round"/><line x1="1003.71" y1="120.82" x2="1002.92" y2="124.54" stroke="#d4c23a" stroke-width="2.9" stroke-linecap="round"/><line x1="1003.71" y1="120.82" x2="1002.92" y2="124.54" stroke="#f3e41e" stroke-width="2.1" stroke-linecap="round"/><line x1="998.54" y1="117.27" x2="995.35" y2="119.34" stroke="#d4c23a" stroke-width="2.9" stroke-linecap="round"/><line x1="998.54" y1="117.27" x2="995.35" y2="119.34" stroke="#f3e41e" stroke-width="2.1" stroke-linecap="round"/><line x1="997.39" y1="111.10" x2="993.68" y2="110.31" stroke="#d4c23a" stroke-width="2.9" stroke-linecap="round"/><line x1="997.39" y1="111.10" x2="993.68" y2="110.31" stroke="#f3e41e" stroke-width="2.1" stroke-linecap="round"/><line x1="1000.95" y1="105.92" x2="998.88" y2="102.74" stroke="#d4c23a" stroke-width="2.9" stroke-linecap="round"/><line x1="1000.95" y1="105.92" x2="998.88" y2="102.74" stroke="#f3e41e" stroke-width="2.1" stroke-linecap="round"/><circle cx="1005.41" cy="112.80" r="6.30" fill="#f3e41e" stroke="#f0a430" stroke-width="0.9"/><g><circle cx="1008.71" cy="121.10" r="4.30" fill="#2a62be"/><circle cx="1014.21" cy="117.70" r="4.90" fill="#2a62be"/><circle cx="1019.31" cy="120.80" r="4.30" fill="#2a62be"/><rect x="1008.71" y="120.10" width="10.60" height="5.15" fill="#2a62be"/><circle cx="1008.71" cy="121.10" r="2.70" fill="#fff"/><circle cx="1014.21" cy="117.70" r="3.30" fill="#fff"/><circle cx="1019.31" cy="120.80" r="2.70" fill="#fff"/><rect x="1008.71" y="120.10" width="10.60" height="3.55" fill="#fff"/><path d="M1015.81,120.80 A3.50,3.50 0 0 1 1017.83,117.63" fill="none" stroke="#2a62be" stroke-width="1.44" stroke-linecap="round"/></g>
<line x1="1041.66" y1="104.78" x2="1042.45" y2="101.06" stroke="#d4c23a" stroke-width="2.9" stroke-linecap="round"/><line x1="1041.66" y1="104.78" x2="1042.45" y2="101.06" stroke="#f3e41e" stroke-width="2.1" stroke-linecap="round"/><line x1="1046.84" y1="108.33" x2="1050.02" y2="106.26" stroke="#d4c23a" stroke-width="2.9" stroke-linecap="round"/><line x1="1046.84" y1="108.33" x2="1050.02" y2="106.26" stroke="#f3e41e" stroke-width="2.1" stroke-linecap="round"/><line x1="1047.98" y1="114.50" x2="1051.70" y2="115.29" stroke="#d4c23a" stroke-width="2.9" stroke-linecap="round"/><line x1="1047.98" y1="114.50" x2="1051.70" y2="115.29" stroke="#f3e41e" stroke-width="2.1" stroke-linecap="round"/><line x1="1044.42" y1="119.68" x2="1046.49" y2="122.86" stroke="#d4c23a" stroke-width="2.9" stroke-linecap="round"/><line x1="1044.42" y1="119.68" x2="1046.49" y2="122.86" stroke="#f3e41e" stroke-width="2.1" stroke-linecap="round"/><line x1="1038.25" y1="120.82" x2="1037.46" y2="124.54" stroke="#d4c23a" stroke-width="2.9" stroke-linecap="round"/><line x1="1038.25" y1="120.82" x2="1037.46" y2="124.54" stroke="#f3e41e" stroke-width="2.1" stroke-linecap="round"/><line x1="1033.08" y1="117.27" x2="1029.89" y2="119.34" stroke="#d4c23a" stroke-width="2.9" stroke-linecap="round"/><line x1="1033.08" y1="117.27" x2="1029.89" y2="119.34" stroke="#f3e41e" stroke-width="2.1" stroke-linecap="round"/><line x1="1031.94" y1="111.10" x2="1028.22" y2="110.31" stroke="#d4c23a" stroke-width="2.9" stroke-linecap="round"/><line x1="1031.94" y1="111.10" x2="1028.22" y2="110.31" stroke="#f3e41e" stroke-width="2.1" stroke-linecap="round"/><line x1="1035.49" y1="105.92" x2="1033.42" y2="102.74" stroke="#d4c23a" stroke-width="2.9" stroke-linecap="round"/><line x1="1035.49" y1="105.92" x2="1033.42" y2="102.74" stroke="#f3e41e" stroke-width="2.1" stroke-linecap="round"/><circle cx="1039.96" cy="112.80" r="6.30" fill="#f3e41e" stroke="#f0a430" stroke-width="0.9"/><g><circle cx="1043.26" cy="121.10" r="4.30" fill="#2a62be"/><circle cx="1048.76" cy="117.70" r="4.90" fill="#2a62be"/><circle cx="1053.86" cy="120.80" r="4.30" fill="#2a62be"/><rect x="1043.26" y="120.10" width="10.60" height="5.15" fill="#2a62be"/><circle cx="1043.26" cy="121.10" r="2.70" fill="#fff"/><circle cx="1048.76" cy="117.70" r="3.30" fill="#fff"/><circle cx="1053.86" cy="120.80" r="2.70" fill="#fff"/><rect x="1043.26" y="120.10" width="10.60" height="3.55" fill="#fff"/><path d="M1050.36,120.80 A3.50,3.50 0 0 1 1052.38,117.63" fill="none" stroke="#2a62be" stroke-width="1.44" stroke-linecap="round"/></g>
<path d="M1079.50,101.50 A11.92,11.92 0 1 0 1079.50,125.30 A18.96,18.96 0 0 1 1079.50,101.50Z" fill="#fff" stroke="#000" stroke-width="1.8" stroke-linejoin="round"/><g opacity="0.75"><g><circle cx="1075.50" cy="121.50" r="4.30" fill="#2d5076"/><circle cx="1081.00" cy="118.10" r="4.90" fill="#2d5076"/><circle cx="1086.10" cy="121.20" r="4.30" fill="#2d5076"/><rect x="1075.50" y="120.50" width="10.60" height="5.15" fill="#2d5076"/><circle cx="1075.50" cy="121.50" r="2.70" fill="#d3d3d3"/><circle cx="1081.00" cy="118.10" r="3.30" fill="#d3d3d3"/><circle cx="1086.10" cy="121.20" r="2.70" fill="#d3d3d3"/><rect x="1075.50" y="120.50" width="10.60" height="3.55" fill="#d3d3d3"/><path d="M1076.98,118.33 A3.50,3.50 0 0 1 1078.99,121.81" fill="none" stroke="#2d5076" stroke-width="1.44" stroke-linecap="round"/></g></g>
<path d="M123.6,164.4 L129.7,141.9 M128.9,145.0 L133.6,145.4 M140.7,164.4 L147.3,141.9 M146.4,145.0 L151.2,145.5 M155.8,163.8 L166.2,142.5 M164.8,145.4 L169.4,146.7 M168.6,160.7 L186.2,146.2 M183.7,148.2 L187.4,151.4 M187.4,148.0 L205.1,158.3 M204.6,158.0 L203.0,162.3 M202.0,156.5 L200.4,160.8 M205.1,162.0 L221.5,144.3 M242.1,151.0 L218.4,154.7 M221.6,154.2 L220.0,149.7 M240.9,163.2 L254.3,143.1 M252.5,145.8 L256.9,147.7 M258.6,163.2 L272.0,143.1 M270.2,145.8 L274.6,147.7 M275.6,163.2 L288.4,142.7 M286.7,145.4 L291.2,147.2 M293.8,163.8 L304.8,142.5 M303.3,145.3 L307.9,146.8 M307.2,161.3 L324.8,145.5 M322.4,147.6 L326.2,150.6 M325.4,148.0 L345.5,159.5 M345.0,159.2 L343.4,163.5 M342.4,157.7 L340.8,162.0 M344.3,162.6 L358.9,143.1 M380.7,151.6 L356.4,154.0 M359.6,153.7 L358.3,149.1 M386.8,165.6 L385.0,140.7 M385.2,143.9 L389.9,142.7 M398.4,164.4 L408.2,141.9 M406.9,144.8 L411.6,146.0 M414.2,163.2 L427.0,142.7 M425.3,145.4 L429.8,147.2 M431.2,163.2 L444.6,142.7 M442.8,145.4 L447.3,147.3 M445.8,161.3 L463.4,144.7 M461.1,146.9 L464.9,149.8 M459.8,150.4 L483.5,156.5 M482.9,156.4 L482.6,160.9 M480.0,155.6 L479.7,160.2 M484.1,164.4 L495.0,141.9 M518.7,151.0 L495.0,154.7 M498.2,154.2 L496.6,149.7 M523.0,165.0 L524.8,141.3 M524.6,144.5 L529.3,144.0 M535.8,164.4 L546.2,141.9 M544.9,144.8 L549.5,146.0 M552.2,163.8 L565.0,142.5 M563.4,145.2 L567.8,147.0 M569.8,163.8 L582.0,142.5 M580.4,145.3 L584.9,146.9 M584.4,162.2 L601.4,144.3 M599.2,146.6 L603.2,149.3 M598.4,152.2 L622.1,153.4 M621.7,153.4 L622.7,161.3 M631.2,141.3 L624.5,165.0 M625.4,161.9 L620.6,161.4 M651.9,142.5 L638.5,163.2 M640.2,160.5 L635.8,158.6 M651.2,159.5 L672.5,146.8 M669.8,148.4 L672.9,152.1 M668.2,157.1 L691.3,149.2 M688.3,150.2 L690.6,154.4 M685.2,157.7 L708.3,149.2 M705.3,150.3 L707.7,154.5 M703.5,158.3 L725.3,148.0 M722.4,149.4 L725.2,153.3 M719.9,157.1 L743.0,149.2 M740.0,150.2 L742.3,154.4 M740.5,150.4 L760.0,155.3 M756.9,154.5 L756.6,159.3 M755.1,146.8 L776.4,158.9 M773.6,157.3 L772.0,161.8 M776.0,147.4 L793.6,160.1 M791.0,158.2 L788.9,162.5 M809.4,162.2 L791.8,144.3 M794.0,146.6 L796.8,142.7 M817.3,165.0 L819.1,141.3 M818.9,144.5 L823.6,144.0 M832.5,164.4 L838.0,141.3 M837.3,144.4 L842.1,144.7 M848.9,164.4 L856.8,141.9 M855.7,144.9 L860.5,145.7 M868.4,165.0 L871.4,141.3 M871.0,144.5 L875.8,144.2 M898.7,154.7 L875.0,151.6 M878.2,152.0 L878.0,147.2 M916.0,156.5 L892.7,149.8 M895.8,150.7 L896.3,145.9 M932.7,159.5 L910.9,146.2 M913.6,147.9 L915.4,143.4 M937.8,165.6 L940.0,140.7 M939.7,143.9 L944.5,143.5 M950.7,164.1 L961.3,141.9 M959.9,144.8 L964.5,146.1 M966.8,163.4 L979.5,142.5 M977.8,145.2 L982.3,147.0 M982.6,162.6 L999.0,143.5 M996.9,145.9 L1001.0,148.4 M1000.0,153.3 L1020.4,150.8 M1017.2,151.2 L1018.6,155.8 M1017.4,142.9 L1032.3,162.8 M1030.4,160.2 L1027.1,163.7 M1037.7,141.4 L1046.7,163.8 M1045.5,160.8 L1041.4,163.4 M1052.6,143.4 L1067.0,162.8 M1065.1,160.2 L1061.8,163.7 M1064.5,151.8 L1089.4,154.0 M1086.2,153.7 L1086.6,158.5 M1084.4,159.8 L1104.0,146.9 M1101.3,148.7 L1104.6,152.1" fill="none" stroke="#000" stroke-width="2.1" stroke-linecap="butt"/>
<rect x="127.4" y="97.5" width="967" height="261.9" fill="none" stroke="#000" stroke-width="1.3"/>
<text x="162.15" y="376.8" class="dj" text-anchor="middle">06</text>
<text x="196.69" y="376.8" class="dj" text-anchor="middle">12</text>
<text x="231.24" y="376.8" class="dj" text-anchor="middle">18</text>
<text x="265.78" y="376.8" class="dj" text-anchor="middle">tor</text>
<text x="300.33" y="376.8" class="dj" text-anchor="middle">06</text>
<text x="334.87" y="376.8" class="dj" text-anchor="middle">12</text>
<text x="369.42" y="376.8" class="dj" text-anchor="middle">18</text>
<text x="403.96" y="376.8" class="dj" text-anchor="middle">sre</text>
<text x="438.51" y="376.8" class="dj" text-anchor="middle">06</text>
<text x="473.06" y="376.8" class="dj" text-anchor="middle">12</text>
<text x="507.60" y="376.8" class="dj" text-anchor="middle">18</text>
<text x="542.15" y="376.8" class="dj" text-anchor="middle">čet</text>
<text x="576.69" y="376.8" class="dj" text-anchor="middle">06</text>
<text x="611.24" y="376.8" class="dj" text-anchor="middle">12</text>
<text x="645.78" y="376.8" class="dj" text-anchor="middle">18</text>
<text x="680.33" y="376.8" class="dj" text-anchor="middle">pet</text>
<text x="714.88" y="376.8" class="dj" text-anchor="middle">06</text>
<text x="749.42" y="376.8" class="dj" text-anchor="middle">12</text>
<text x="783.97" y="376.8" class="dj" text-anchor="middle">18</text>
<text x="818.51" y="376.8" class="dj" text-anchor="middle">sob</text>
<text x="853.06" y="376.8" class="dj" text-anchor="middle">06</text>
<text x="887.60" y="376.8" class="dj" text-anchor="middle">12</text>
<text x="922.15" y="376.8" class="dj" text-anchor="middle">18</text>
<text x="956.69" y="376.8" class="dj" text-anchor="middle">ned</text>
<text x="991.24" y="376.8" class="dj" text-anchor="middle">06</text>
<text x="1025.79" y="376.8" class="dj" text-anchor="middle">12</text>
<text x="1060.33" y="376.8" class="dj" text-anchor="middle">18</text>
<text x="196.29" y="69" class="dj" text-anchor="middle" style="font-size:17.7px;color:#000;fill:#000">ponedeljek</text>
<text x="196.09" y="89.8" class="dj" text-anchor="middle" style="color:#000;fill:#000">13.10</text>
<text x="334.47" y="69" class="dj" text-anchor="middle" style="font-size:17.7px;color:#000;fill:#000">torek</text>
<text x="334.27" y="89.8" class="dj" text-anchor="middle" style="color:#000;fill:#000">14.10</text>
<text x="472.66" y="69" class="dj" text-anchor="middle" style="font-size:17.7px;color:#000;fill:#000">sreda</text>
<text x="472.46" y="89.8" class="dj" text-anchor="middle" style="color:#000;fill:#000">15.10</text>
<text x="610.84" y="69" class="dj" text-anchor="middle" style="font-size:17.7px;color:#000;fill:#000">četrtek</text>
<text x="610.64" y="89.8" class="dj" text-anchor="middle" style="color:#000;fill:#000">16.10</text>
<text x="749.02" y="69" class="dj" text-anchor="middle" style="font-size:17.7px;color:#000;fill:#000">petek</text>
<text x="748.82" y="89.8" class="dj" text-anchor="middle" style="color:#000;fill:#000">17.10</text>
<text x="887.20" y="69" class="dj" text-anchor="middle" style="font-size:17.7px;color:#cc0000;fill:#cc0000">sobota</text>
<text x="887.00" y="89.8" class="dj" text-anchor="middle" style="color:#cc0000;fill:#cc0000">18.10</text>
<text x="1025.39" y="69" class="dj" text-anchor="middle" style="font-size:17.7px;color:#cc0000;fill:#cc0000">nedelja</text>
<text x="1025.19" y="89.8" class="dj" text-anchor="middle" style="color:#cc0000;fill:#cc0000">19.10</text>
<g clip-path="url(#cpL)">
<text x="122.9" y="365.85" class="dj" text-anchor="end">0</text>
<text x="122.9" y="328.50" class="dj" text-anchor="end">3</text>
<text x="122.9" y="291.15" class="dj" text-anchor="end">6</text>
<text x="122.9" y="253.80" class="dj" text-anchor="end">9</text>
<text x="122.9" y="216.45" class="dj" text-anchor="end">12</text>
<text x="122.9" y="179.10" class="dj" text-anchor="end">15</text>
</g>
<text x="1097.6" y="365.75" class="dj">0</text>
<text x="1097.6" y="328.40" class="dj">1.5</text>
<text x="1097.6" y="291.05" class="dj">3.5</text>
<text x="1097.6" y="253.70" class="dj">6.0</text>
<text x="1097.6" y="216.35" class="dj">9.0</text>
<text x="1097.6" y="179.00" class="dj">14</text>
<text x="45.4" y="366.45" class="dj" style="color:#ff0000;fill:#ff0000">6</text>
<text x="45.4" y="329.10" class="dj" style="color:#ff0000;fill:#ff0000">10</text>
<text x="45.4" y="291.75" class="dj" style="color:#ff0000;fill:#ff0000">14</text>
<text x="45.4" y="254.40" class="dj" style="color:#ff0000;fill:#ff0000">18</text>
<text x="45.4" y="217.05" class="dj" style="color:#ff0000;fill:#ff0000">22</text>
<text x="45.4" y="179.70" class="dj" style="color:#ff0000;fill:#ff0000">26</text>
<text transform="translate(100.1,263.3) rotate(-90)" class="ls ax" text-anchor="middle">Padavine (mm/h)</text>
<text transform="translate(35.1,266.4) rotate(-90)" class="ls ax" text-anchor="middle" style="color:#ff0000;fill:#ff0000">Temperatura (°C)</text>
<text transform="translate(1144.4,254.6) rotate(-90)" class="ls ax" text-anchor="middle">Višina oblakov (km)</text>
<g clip-path="url(#cpT)"><text transform="translate(92.8,255.5) rotate(-90)" class="ls ax" text-anchor="middle">Padavine (mm/h)</text></g>
<rect x="127" y="390.3" width="32" height="10.7" fill="#0050f0"/>
<rect x="165" y="386" width="105" height="19.4" fill="#fff"/>
<text x="169.3" y="401.8" class="ls lg">Dež</text>
<rect x="278.2" y="390.2" width="31.6" height="10.6" fill="#10d8c8"/>
<rect x="310.2" y="386" width="109.8" height="19.4" fill="#fff"/>
<text x="319.7" y="401.8" class="ls lg">Možnost ploh</text>
<text x="499.5" y="401.4" class="ls" style="color:#0000ff;fill:#0000ff" font-size="16" letter-spacing="-0.1">© vreme.us &amp; vreme.pro</text>
<rect x="759.4" y="386" width="181.2" height="19.3" fill="#fff"/>
<text x="759.2" y="401.8" class="ls lg" style="font-size:19.3px">Gostota oblakov (%)</text>
<rect x="949.00" y="385.1" width="29.1" height="13.2" fill="#d3d3d3"/>
<rect x="978.00" y="385.1" width="29.1" height="13.2" fill="#b1b3b1"/>
<rect x="1007.00" y="385.1" width="29.1" height="13.2" fill="#919191"/>
<rect x="1036.00" y="385.1" width="29.1" height="13.2" fill="#707070"/>
<rect x="1065.00" y="385.1" width="29.1" height="13.2" fill="#555555"/>
<rect x="949.2" y="385.3" width="145.3" height="13.0" fill="none" stroke="#222" stroke-width="1"/>
<text x="949.20" y="414.6" class="dj cbl" text-anchor="middle">10</text>
<text x="978.25" y="414.6" class="dj cbl" text-anchor="middle">25</text>
<text x="1007.30" y="414.6" class="dj cbl" text-anchor="middle">50</text>
<text x="1036.35" y="414.6" class="dj cbl" text-anchor="middle">75</text>
<text x="1065.40" y="414.6" class="dj cbl" text-anchor="middle">90</text>
<text x="1094.45" y="414.6" class="dj cbl" text-anchor="middle">100</text>
</svg>
</body></html>
